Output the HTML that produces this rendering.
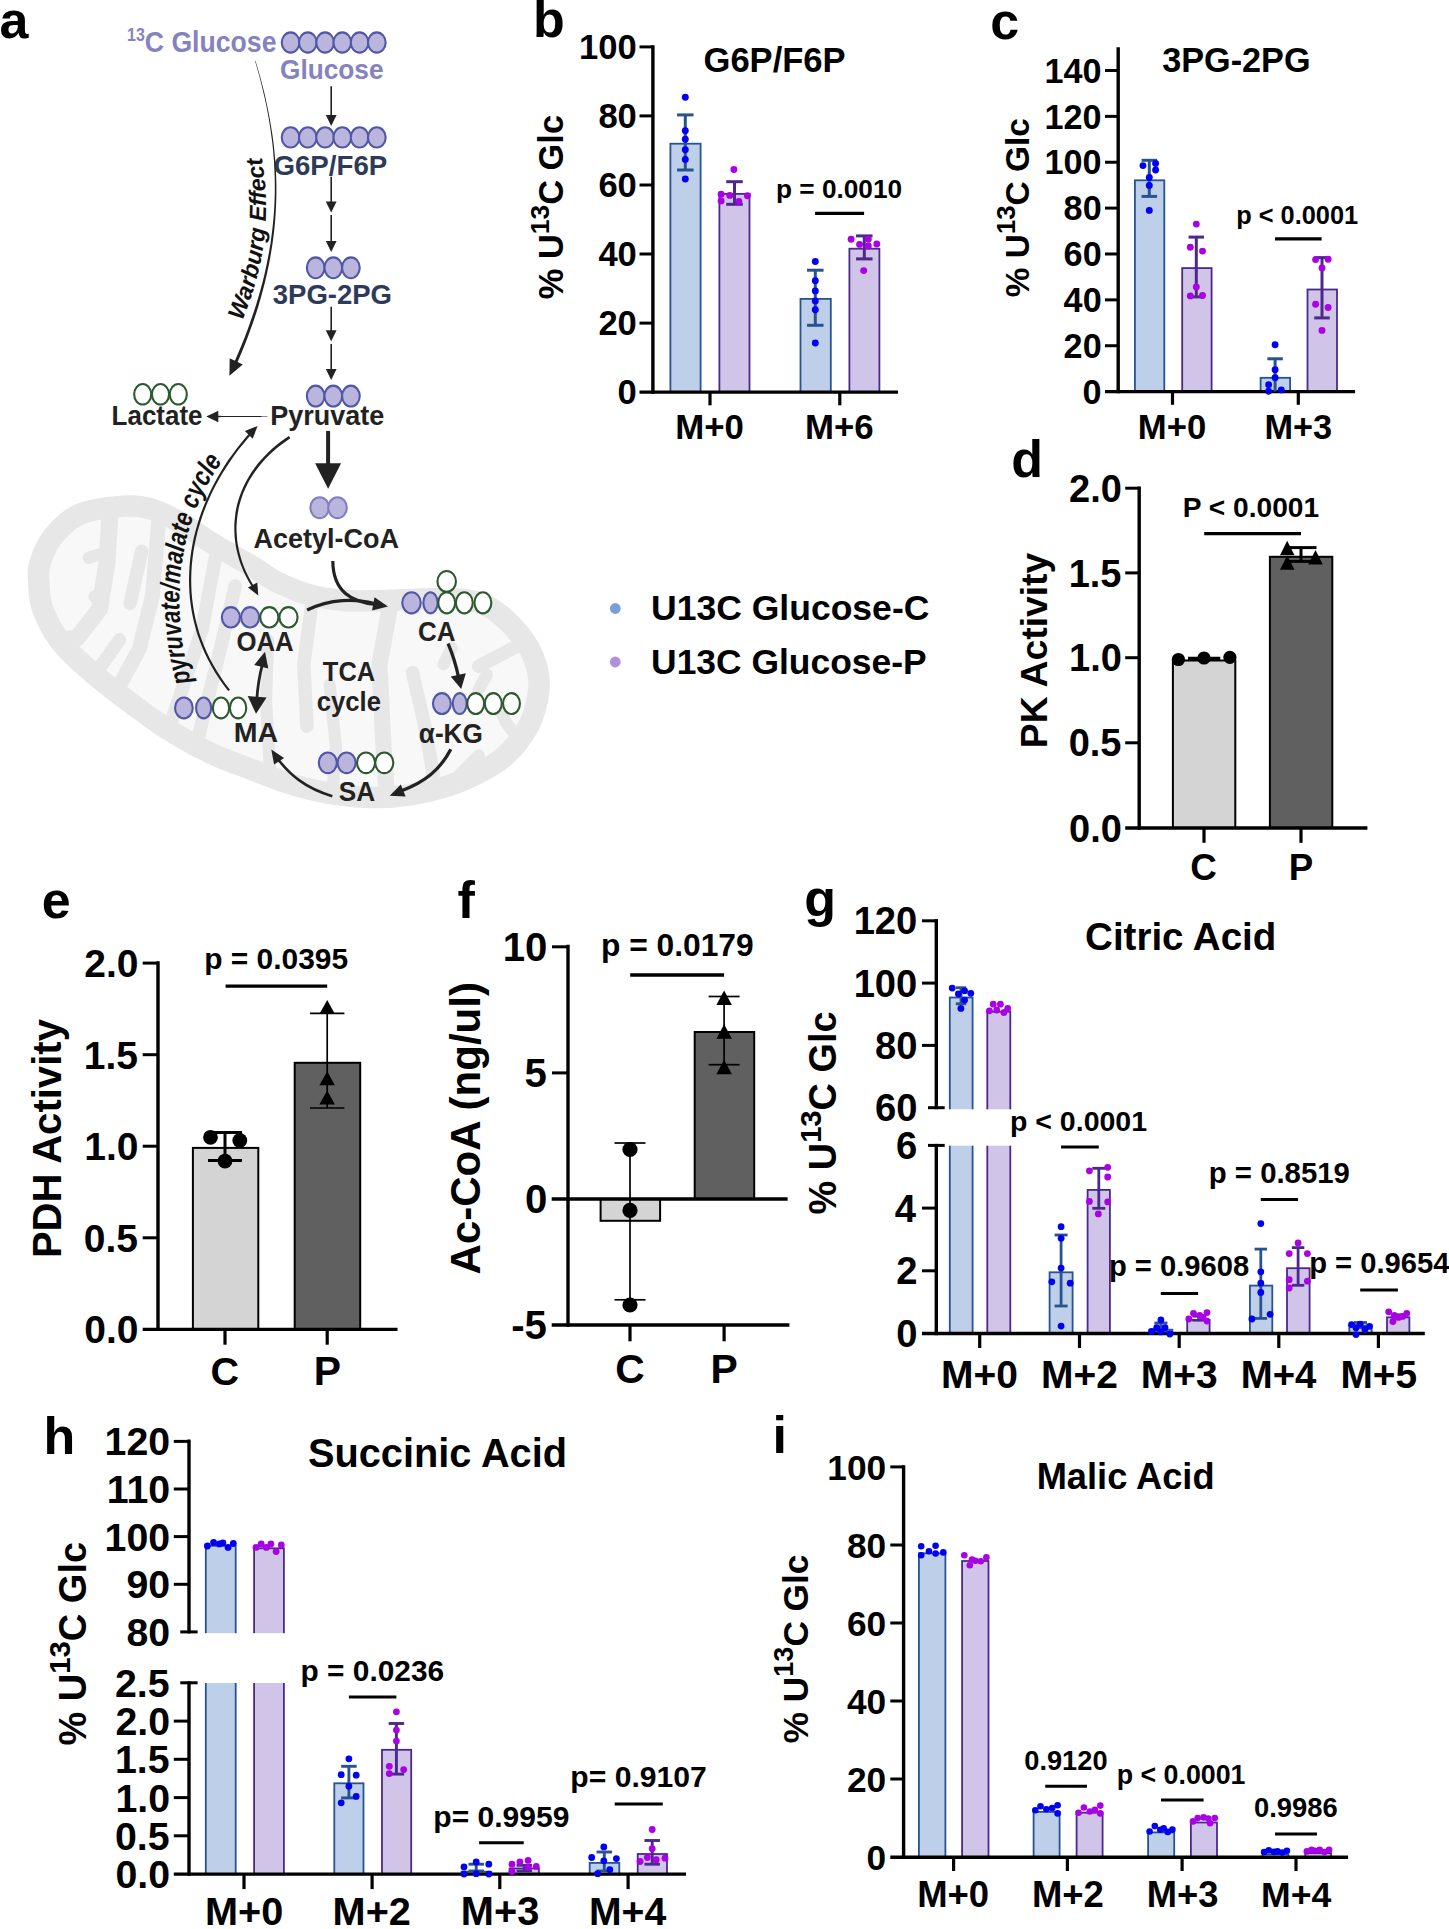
<!DOCTYPE html>
<html><head><meta charset="utf-8"><title>Figure</title>
<style>html,body{margin:0;padding:0;background:#fff}svg{display:block}</style></head>
<body>
<svg width="1449" height="1929" viewBox="0 0 1449 1929" font-family="'Liberation Sans', sans-serif">
<rect width="1449" height="1929" fill="#fff"/>
<text transform="translate(-0.53,38.20) scale(1.0000,1)" font-size="52" fill="#000" font-weight="bold">a</text>
<clipPath id="mc"><path d="M28.0,582.0 L27.9,579.9 L27.8,577.9 L27.7,576.0 L27.7,574.2 L27.7,572.5 L27.7,570.7 L27.9,569.0 L28.1,567.3 L28.4,565.5 L28.8,563.6 L29.3,561.6 L29.9,559.5 L30.6,557.3 L31.5,554.9 L32.4,552.4 L33.3,549.9 L34.4,547.4 L35.6,544.8 L36.9,542.1 L38.2,539.5 L39.7,537.0 L41.3,534.5 L43.0,532.0 L44.8,529.7 L46.7,527.4 L48.7,525.1 L50.9,522.8 L53.1,520.5 L55.4,518.2 L57.9,516.0 L60.4,513.8 L63.1,511.7 L65.8,509.8 L68.7,508.0 L71.6,506.3 L74.7,504.8 L77.9,503.5 L81.4,502.2 L85.1,501.1 L88.9,500.2 L92.9,499.3 L96.9,498.5 L100.8,497.9 L104.8,497.3 L108.7,496.8 L112.5,496.4 L116.0,496.0 L119.4,495.7 L122.6,495.5 L125.6,495.3 L128.5,495.2 L131.3,495.2 L134.0,495.3 L136.7,495.4 L139.3,495.7 L141.9,496.0 L144.5,496.4 L147.1,496.9 L149.8,497.5 L152.5,498.2 L155.3,499.0 L158.0,499.9 L160.8,500.9 L163.5,502.0 L166.3,503.2 L169.0,504.5 L171.8,505.8 L174.6,507.2 L177.3,508.6 L180.1,510.1 L182.8,511.6 L185.6,513.1 L188.3,514.7 L191.0,516.3 L193.7,518.0 L196.4,519.7 L199.0,521.5 L201.7,523.3 L204.4,525.2 L207.1,527.1 L209.9,529.0 L212.8,530.9 L215.8,532.8 L218.8,534.7 L222.0,536.6 L225.4,538.7 L229.0,540.7 L232.7,542.8 L236.4,545.0 L240.1,547.1 L243.8,549.2 L247.4,551.2 L250.9,553.2 L254.2,555.1 L257.2,556.9 L260.0,558.5 L262.5,560.0 L264.7,561.4 L266.7,562.7 L268.5,564.0 L270.2,565.2 L271.8,566.3 L273.3,567.3 L274.9,568.4 L276.5,569.4 L278.2,570.4 L280.0,571.5 L282.0,572.5 L284.2,573.6 L286.4,574.6 L288.7,575.7 L291.1,576.7 L293.5,577.8 L295.9,578.8 L298.4,579.8 L300.9,580.7 L303.4,581.6 L306.0,582.5 L308.5,583.3 L311.0,584.0 L313.5,584.7 L316.1,585.3 L318.6,585.9 L321.2,586.5 L323.8,587.0 L326.4,587.4 L329.0,587.9 L331.7,588.3 L334.3,588.6 L336.9,588.9 L339.5,589.2 L342.1,589.5 L344.7,589.7 L347.3,589.9 L349.9,590.0 L352.5,590.1 L355.1,590.1 L357.7,590.2 L360.2,590.2 L362.8,590.1 L365.4,590.1 L368.0,590.1 L370.6,590.0 L373.2,590.0 L375.8,590.0 L378.3,589.9 L380.8,589.9 L383.4,589.8 L385.9,589.7 L388.4,589.6 L390.9,589.5 L393.5,589.4 L396.1,589.3 L398.8,589.2 L401.4,589.1 L404.2,589.0 L407.0,588.9 L410.0,588.8 L412.9,588.7 L416.0,588.6 L419.1,588.5 L422.2,588.3 L425.3,588.2 L428.3,588.1 L431.3,588.1 L434.3,588.0 L437.2,588.0 L440.0,588.0 L442.7,588.0 L445.4,588.0 L448.1,588.1 L450.7,588.1 L453.3,588.1 L455.8,588.2 L458.3,588.3 L460.7,588.5 L463.1,588.6 L465.5,588.9 L467.8,589.2 L470.0,589.5 L472.2,589.9 L474.3,590.3 L476.3,590.7 L478.2,591.1 L480.1,591.6 L482.0,592.1 L483.8,592.7 L485.7,593.4 L487.5,594.1 L489.4,595.0 L491.3,595.9 L493.3,597.0 L495.3,598.2 L497.4,599.5 L499.5,600.9 L501.6,602.4 L503.7,603.9 L505.9,605.6 L508.0,607.3 L510.1,609.1 L512.2,610.9 L514.2,612.8 L516.2,614.7 L518.1,616.6 L520.0,618.6 L521.9,620.6 L523.8,622.7 L525.7,624.9 L527.5,627.1 L529.4,629.3 L531.1,631.6 L532.8,634.0 L534.4,636.3 L536.0,638.7 L537.4,641.1 L538.8,643.5 L540.1,645.9 L541.3,648.4 L542.4,651.0 L543.5,653.6 L544.5,656.2 L545.4,658.8 L546.3,661.4 L547.0,664.1 L547.7,666.7 L548.3,669.4 L548.8,672.0 L549.2,674.6 L549.5,677.2 L549.7,679.8 L549.8,682.4 L549.8,684.9 L549.7,687.5 L549.6,690.1 L549.3,692.7 L549.0,695.3 L548.6,697.8 L548.2,700.4 L547.7,703.0 L547.1,705.6 L546.5,708.2 L545.8,710.8 L545.1,713.4 L544.3,716.0 L543.4,718.6 L542.5,721.1 L541.4,723.7 L540.3,726.3 L539.1,728.9 L537.7,731.5 L536.3,734.1 L534.7,736.7 L533.0,739.3 L531.2,742.0 L529.3,744.6 L527.3,747.3 L525.2,750.0 L523.0,752.7 L520.7,755.4 L518.3,758.0 L515.8,760.5 L513.2,763.0 L510.5,765.4 L507.7,767.7 L504.8,769.9 L501.6,772.1 L498.4,774.2 L495.0,776.3 L491.5,778.3 L487.9,780.3 L484.3,782.2 L480.6,784.0 L477.0,785.7 L473.4,787.4 L469.8,789.0 L466.3,790.5 L462.9,791.9 L459.4,793.3 L455.9,794.5 L452.5,795.7 L449.1,796.8 L445.6,797.8 L442.1,798.8 L438.7,799.7 L435.3,800.5 L431.8,801.4 L428.4,802.2 L424.9,802.9 L421.4,803.6 L418.0,804.3 L414.5,804.9 L411.1,805.4 L407.6,805.9 L404.2,806.4 L400.8,806.8 L397.3,807.2 L393.8,807.5 L390.4,807.7 L386.9,807.9 L383.5,808.1 L380.1,808.2 L376.7,808.3 L373.3,808.3 L369.9,808.2 L366.5,808.1 L363.2,808.0 L359.8,807.8 L356.3,807.5 L352.9,807.2 L349.3,806.9 L345.7,806.5 L342.1,806.0 L338.4,805.5 L334.6,804.9 L330.7,804.3 L326.8,803.7 L322.9,802.9 L318.9,802.2 L314.9,801.4 L310.9,800.5 L306.9,799.6 L302.9,798.6 L299.0,797.6 L295.0,796.5 L291.0,795.3 L287.1,794.1 L283.1,792.8 L279.0,791.4 L275.0,789.9 L271.0,788.4 L267.0,786.9 L263.0,785.4 L259.1,783.9 L255.2,782.4 L251.4,780.9 L247.7,779.5 L244.0,778.1 L240.5,776.8 L236.9,775.5 L233.5,774.2 L230.0,772.9 L226.6,771.6 L223.3,770.2 L219.9,768.9 L216.5,767.5 L213.1,766.0 L209.7,764.5 L206.3,762.9 L202.9,761.2 L199.4,759.5 L196.0,757.8 L192.5,756.0 L189.1,754.2 L185.6,752.3 L182.2,750.4 L178.7,748.4 L175.3,746.4 L171.8,744.3 L168.4,742.2 L164.9,740.1 L161.5,737.9 L158.0,735.7 L154.6,733.4 L151.1,731.0 L147.7,728.7 L144.2,726.2 L140.8,723.8 L137.3,721.3 L133.8,718.8 L130.4,716.2 L127.0,713.7 L123.5,711.1 L120.0,708.5 L116.5,705.8 L112.9,703.1 L109.3,700.3 L105.7,697.5 L102.2,694.7 L98.6,691.9 L95.1,689.0 L91.7,686.2 L88.4,683.4 L85.2,680.7 L82.1,678.0 L79.1,675.4 L76.2,672.8 L73.3,670.2 L70.5,667.7 L67.8,665.1 L65.2,662.6 L62.6,660.1 L60.1,657.6 L57.7,655.0 L55.4,652.4 L53.2,649.7 L51.1,647.0 L49.1,644.2 L47.1,641.3 L45.2,638.4 L43.4,635.4 L41.7,632.4 L40.1,629.3 L38.6,626.3 L37.1,623.3 L35.8,620.3 L34.5,617.4 L33.4,614.6 L32.4,611.8 L31.5,609.1 L30.8,606.4 L30.1,603.8 L29.6,601.2 L29.2,598.6 L28.9,596.1 L28.7,593.6 L28.5,591.2 L28.3,588.8 L28.2,586.5 L28.1,584.2 Z"/></clipPath>
<path d="M28.0,582.0 L27.9,579.9 L27.8,577.9 L27.7,576.0 L27.7,574.2 L27.7,572.5 L27.7,570.7 L27.9,569.0 L28.1,567.3 L28.4,565.5 L28.8,563.6 L29.3,561.6 L29.9,559.5 L30.6,557.3 L31.5,554.9 L32.4,552.4 L33.3,549.9 L34.4,547.4 L35.6,544.8 L36.9,542.1 L38.2,539.5 L39.7,537.0 L41.3,534.5 L43.0,532.0 L44.8,529.7 L46.7,527.4 L48.7,525.1 L50.9,522.8 L53.1,520.5 L55.4,518.2 L57.9,516.0 L60.4,513.8 L63.1,511.7 L65.8,509.8 L68.7,508.0 L71.6,506.3 L74.7,504.8 L77.9,503.5 L81.4,502.2 L85.1,501.1 L88.9,500.2 L92.9,499.3 L96.9,498.5 L100.8,497.9 L104.8,497.3 L108.7,496.8 L112.5,496.4 L116.0,496.0 L119.4,495.7 L122.6,495.5 L125.6,495.3 L128.5,495.2 L131.3,495.2 L134.0,495.3 L136.7,495.4 L139.3,495.7 L141.9,496.0 L144.5,496.4 L147.1,496.9 L149.8,497.5 L152.5,498.2 L155.3,499.0 L158.0,499.9 L160.8,500.9 L163.5,502.0 L166.3,503.2 L169.0,504.5 L171.8,505.8 L174.6,507.2 L177.3,508.6 L180.1,510.1 L182.8,511.6 L185.6,513.1 L188.3,514.7 L191.0,516.3 L193.7,518.0 L196.4,519.7 L199.0,521.5 L201.7,523.3 L204.4,525.2 L207.1,527.1 L209.9,529.0 L212.8,530.9 L215.8,532.8 L218.8,534.7 L222.0,536.6 L225.4,538.7 L229.0,540.7 L232.7,542.8 L236.4,545.0 L240.1,547.1 L243.8,549.2 L247.4,551.2 L250.9,553.2 L254.2,555.1 L257.2,556.9 L260.0,558.5 L262.5,560.0 L264.7,561.4 L266.7,562.7 L268.5,564.0 L270.2,565.2 L271.8,566.3 L273.3,567.3 L274.9,568.4 L276.5,569.4 L278.2,570.4 L280.0,571.5 L282.0,572.5 L284.2,573.6 L286.4,574.6 L288.7,575.7 L291.1,576.7 L293.5,577.8 L295.9,578.8 L298.4,579.8 L300.9,580.7 L303.4,581.6 L306.0,582.5 L308.5,583.3 L311.0,584.0 L313.5,584.7 L316.1,585.3 L318.6,585.9 L321.2,586.5 L323.8,587.0 L326.4,587.4 L329.0,587.9 L331.7,588.3 L334.3,588.6 L336.9,588.9 L339.5,589.2 L342.1,589.5 L344.7,589.7 L347.3,589.9 L349.9,590.0 L352.5,590.1 L355.1,590.1 L357.7,590.2 L360.2,590.2 L362.8,590.1 L365.4,590.1 L368.0,590.1 L370.6,590.0 L373.2,590.0 L375.8,590.0 L378.3,589.9 L380.8,589.9 L383.4,589.8 L385.9,589.7 L388.4,589.6 L390.9,589.5 L393.5,589.4 L396.1,589.3 L398.8,589.2 L401.4,589.1 L404.2,589.0 L407.0,588.9 L410.0,588.8 L412.9,588.7 L416.0,588.6 L419.1,588.5 L422.2,588.3 L425.3,588.2 L428.3,588.1 L431.3,588.1 L434.3,588.0 L437.2,588.0 L440.0,588.0 L442.7,588.0 L445.4,588.0 L448.1,588.1 L450.7,588.1 L453.3,588.1 L455.8,588.2 L458.3,588.3 L460.7,588.5 L463.1,588.6 L465.5,588.9 L467.8,589.2 L470.0,589.5 L472.2,589.9 L474.3,590.3 L476.3,590.7 L478.2,591.1 L480.1,591.6 L482.0,592.1 L483.8,592.7 L485.7,593.4 L487.5,594.1 L489.4,595.0 L491.3,595.9 L493.3,597.0 L495.3,598.2 L497.4,599.5 L499.5,600.9 L501.6,602.4 L503.7,603.9 L505.9,605.6 L508.0,607.3 L510.1,609.1 L512.2,610.9 L514.2,612.8 L516.2,614.7 L518.1,616.6 L520.0,618.6 L521.9,620.6 L523.8,622.7 L525.7,624.9 L527.5,627.1 L529.4,629.3 L531.1,631.6 L532.8,634.0 L534.4,636.3 L536.0,638.7 L537.4,641.1 L538.8,643.5 L540.1,645.9 L541.3,648.4 L542.4,651.0 L543.5,653.6 L544.5,656.2 L545.4,658.8 L546.3,661.4 L547.0,664.1 L547.7,666.7 L548.3,669.4 L548.8,672.0 L549.2,674.6 L549.5,677.2 L549.7,679.8 L549.8,682.4 L549.8,684.9 L549.7,687.5 L549.6,690.1 L549.3,692.7 L549.0,695.3 L548.6,697.8 L548.2,700.4 L547.7,703.0 L547.1,705.6 L546.5,708.2 L545.8,710.8 L545.1,713.4 L544.3,716.0 L543.4,718.6 L542.5,721.1 L541.4,723.7 L540.3,726.3 L539.1,728.9 L537.7,731.5 L536.3,734.1 L534.7,736.7 L533.0,739.3 L531.2,742.0 L529.3,744.6 L527.3,747.3 L525.2,750.0 L523.0,752.7 L520.7,755.4 L518.3,758.0 L515.8,760.5 L513.2,763.0 L510.5,765.4 L507.7,767.7 L504.8,769.9 L501.6,772.1 L498.4,774.2 L495.0,776.3 L491.5,778.3 L487.9,780.3 L484.3,782.2 L480.6,784.0 L477.0,785.7 L473.4,787.4 L469.8,789.0 L466.3,790.5 L462.9,791.9 L459.4,793.3 L455.9,794.5 L452.5,795.7 L449.1,796.8 L445.6,797.8 L442.1,798.8 L438.7,799.7 L435.3,800.5 L431.8,801.4 L428.4,802.2 L424.9,802.9 L421.4,803.6 L418.0,804.3 L414.5,804.9 L411.1,805.4 L407.6,805.9 L404.2,806.4 L400.8,806.8 L397.3,807.2 L393.8,807.5 L390.4,807.7 L386.9,807.9 L383.5,808.1 L380.1,808.2 L376.7,808.3 L373.3,808.3 L369.9,808.2 L366.5,808.1 L363.2,808.0 L359.8,807.8 L356.3,807.5 L352.9,807.2 L349.3,806.9 L345.7,806.5 L342.1,806.0 L338.4,805.5 L334.6,804.9 L330.7,804.3 L326.8,803.7 L322.9,802.9 L318.9,802.2 L314.9,801.4 L310.9,800.5 L306.9,799.6 L302.9,798.6 L299.0,797.6 L295.0,796.5 L291.0,795.3 L287.1,794.1 L283.1,792.8 L279.0,791.4 L275.0,789.9 L271.0,788.4 L267.0,786.9 L263.0,785.4 L259.1,783.9 L255.2,782.4 L251.4,780.9 L247.7,779.5 L244.0,778.1 L240.5,776.8 L236.9,775.5 L233.5,774.2 L230.0,772.9 L226.6,771.6 L223.3,770.2 L219.9,768.9 L216.5,767.5 L213.1,766.0 L209.7,764.5 L206.3,762.9 L202.9,761.2 L199.4,759.5 L196.0,757.8 L192.5,756.0 L189.1,754.2 L185.6,752.3 L182.2,750.4 L178.7,748.4 L175.3,746.4 L171.8,744.3 L168.4,742.2 L164.9,740.1 L161.5,737.9 L158.0,735.7 L154.6,733.4 L151.1,731.0 L147.7,728.7 L144.2,726.2 L140.8,723.8 L137.3,721.3 L133.8,718.8 L130.4,716.2 L127.0,713.7 L123.5,711.1 L120.0,708.5 L116.5,705.8 L112.9,703.1 L109.3,700.3 L105.7,697.5 L102.2,694.7 L98.6,691.9 L95.1,689.0 L91.7,686.2 L88.4,683.4 L85.2,680.7 L82.1,678.0 L79.1,675.4 L76.2,672.8 L73.3,670.2 L70.5,667.7 L67.8,665.1 L65.2,662.6 L62.6,660.1 L60.1,657.6 L57.7,655.0 L55.4,652.4 L53.2,649.7 L51.1,647.0 L49.1,644.2 L47.1,641.3 L45.2,638.4 L43.4,635.4 L41.7,632.4 L40.1,629.3 L38.6,626.3 L37.1,623.3 L35.8,620.3 L34.5,617.4 L33.4,614.6 L32.4,611.8 L31.5,609.1 L30.8,606.4 L30.1,603.8 L29.6,601.2 L29.2,598.6 L28.9,596.1 L28.7,593.6 L28.5,591.2 L28.3,588.8 L28.2,586.5 L28.1,584.2 Z" fill="#e7e7e7"/>
<path d="M49.5,581.0 L49.4,579.0 L49.3,577.2 L49.2,575.5 L49.2,574.2 L49.2,573.0 L49.2,572.0 L49.3,571.2 L49.3,570.4 L49.5,569.5 L49.7,568.5 L50.0,567.3 L50.5,565.8 L51.0,564.1 L51.7,562.2 L52.4,560.2 L53.2,558.1 L54.1,556.0 L55.0,554.0 L56.0,552.0 L57.0,550.0 L58.1,548.2 L59.2,546.4 L60.4,544.7 L61.7,543.0 L63.2,541.3 L64.7,539.5 L66.4,537.6 L68.2,535.7 L70.1,533.9 L72.0,532.2 L73.9,530.6 L75.8,529.1 L77.7,527.7 L79.6,526.5 L81.5,525.4 L83.5,524.4 L85.7,523.5 L88.2,522.7 L91.0,521.8 L94.0,521.1 L97.3,520.3 L100.8,519.7 L104.3,519.1 L107.8,518.6 L111.4,518.1 L114.8,517.7 L118.1,517.4 L121.1,517.1 L123.9,516.9 L126.4,516.8 L128.8,516.7 L131.0,516.7 L133.1,516.8 L135.1,516.9 L137.0,517.1 L138.9,517.3 L140.8,517.6 L142.8,518.0 L144.8,518.4 L146.8,518.9 L148.9,519.5 L151.0,520.2 L153.2,521.0 L155.4,521.9 L157.6,522.9 L160.0,523.9 L162.4,525.1 L164.8,526.4 L167.4,527.7 L169.9,529.0 L172.4,530.4 L174.9,531.8 L177.4,533.2 L179.8,534.6 L182.2,536.1 L184.6,537.7 L187.0,539.4 L189.6,541.1 L192.3,543.0 L195.1,544.9 L198.0,546.9 L201.1,548.9 L204.3,551.0 L207.5,553.0 L210.9,555.1 L214.5,557.2 L218.2,559.3 L221.9,561.5 L225.7,563.6 L229.5,565.8 L233.2,567.9 L236.7,569.9 L240.2,571.8 L243.4,573.7 L246.3,575.4 L248.9,576.9 L251.1,578.3 L253.1,579.5 L254.8,580.7 L256.5,581.8 L258.0,582.9 L259.7,584.0 L261.4,585.2 L263.2,586.5 L265.3,587.8 L267.5,589.1 L269.7,590.4 L272.2,591.6 L274.7,592.9 L277.3,594.1 L279.9,595.3 L282.5,596.5 L285.2,597.6 L287.9,598.7 L290.7,599.8 L293.5,600.9 L296.4,601.9 L299.3,602.9 L302.2,603.8 L305.1,604.7 L308.1,605.5 L311.0,606.2 L313.9,606.9 L316.9,607.5 L319.8,608.1 L322.8,608.6 L325.7,609.1 L328.6,609.5 L331.5,609.9 L334.4,610.3 L337.3,610.6 L340.2,610.9 L343.1,611.2 L346.0,611.4 L349.0,611.5 L351.9,611.6 L354.7,611.6 L357.5,611.7 L360.3,611.7 L363.0,611.6 L365.6,611.6 L368.3,611.6 L370.9,611.5 L373.5,611.5 L376.2,611.5 L378.8,611.4 L381.4,611.3 L384.0,611.3 L386.6,611.2 L389.2,611.1 L391.8,611.0 L394.3,610.9 L396.9,610.8 L399.5,610.7 L402.2,610.6 L405.0,610.5 L407.8,610.4 L410.7,610.3 L413.7,610.2 L416.8,610.1 L419.8,609.9 L422.9,609.8 L425.9,609.7 L428.9,609.6 L431.8,609.6 L434.6,609.5 L437.3,609.5 L440.0,609.5 L442.6,609.5 L445.2,609.5 L447.8,609.6 L450.3,609.6 L452.7,609.6 L454.9,609.7 L457.1,609.8 L459.2,609.9 L461.2,610.1 L463.1,610.2 L464.9,610.5 L466.7,610.7 L468.5,611.1 L470.1,611.4 L471.7,611.7 L473.1,612.0 L474.4,612.3 L475.7,612.7 L476.8,613.0 L477.9,613.4 L479.0,613.9 L480.2,614.4 L481.4,615.0 L482.7,615.7 L484.2,616.6 L485.7,617.5 L487.4,618.6 L489.0,619.8 L490.8,621.1 L492.5,622.4 L494.3,623.9 L496.0,625.4 L497.8,626.9 L499.5,628.5 L501.2,630.1 L502.8,631.7 L504.4,633.4 L506.1,635.1 L507.7,636.9 L509.3,638.8 L510.9,640.7 L512.4,642.6 L513.9,644.5 L515.3,646.4 L516.6,648.2 L517.8,650.1 L518.9,651.9 L519.9,653.8 L520.9,655.6 L521.8,657.5 L522.7,659.5 L523.5,661.6 L524.3,663.6 L525.0,665.7 L525.7,667.7 L526.3,669.7 L526.8,671.7 L527.2,673.7 L527.6,675.6 L527.9,677.4 L528.1,679.2 L528.2,681.1 L528.3,682.9 L528.3,684.7 L528.3,686.6 L528.1,688.5 L528.0,690.4 L527.7,692.4 L527.4,694.5 L527.0,696.5 L526.6,698.6 L526.1,700.8 L525.6,702.9 L525.1,705.1 L524.5,707.2 L523.8,709.3 L523.1,711.4 L522.4,713.4 L521.6,715.4 L520.7,717.4 L519.8,719.3 L518.8,721.3 L517.7,723.3 L516.4,725.4 L515.0,727.5 L513.6,729.7 L511.9,732.0 L510.2,734.3 L508.5,736.5 L506.6,738.8 L504.7,741.0 L502.8,743.1 L500.8,745.2 L498.7,747.1 L496.6,749.0 L494.4,750.8 L492.1,752.5 L489.6,754.3 L486.8,756.1 L483.9,757.8 L480.9,759.6 L477.7,761.3 L474.4,763.0 L471.1,764.7 L467.8,766.3 L464.4,767.8 L461.2,769.3 L458.0,770.7 L454.9,771.9 L451.9,773.1 L448.8,774.2 L445.7,775.3 L442.7,776.2 L439.6,777.2 L436.4,778.0 L433.3,778.9 L430.1,779.7 L426.9,780.4 L423.7,781.2 L420.5,781.9 L417.3,782.5 L414.1,783.1 L411.0,783.7 L407.8,784.2 L404.7,784.7 L401.5,785.1 L398.4,785.4 L395.2,785.8 L392.1,786.1 L389.0,786.3 L385.8,786.5 L382.7,786.6 L379.6,786.7 L376.5,786.8 L373.4,786.8 L370.4,786.7 L367.3,786.6 L364.3,786.5 L361.2,786.3 L358.0,786.1 L354.9,785.8 L351.6,785.5 L348.3,785.1 L344.9,784.7 L341.4,784.2 L337.8,783.7 L334.2,783.1 L330.6,782.5 L326.9,781.8 L323.1,781.1 L319.4,780.3 L315.6,779.5 L311.9,778.7 L308.2,777.8 L304.5,776.8 L300.9,775.8 L297.3,774.8 L293.6,773.6 L289.9,772.4 L286.1,771.1 L282.3,769.7 L278.5,768.3 L274.6,766.8 L270.7,765.3 L266.8,763.8 L262.9,762.3 L259.1,760.8 L255.3,759.4 L251.6,758.0 L248.0,756.7 L244.5,755.3 L241.1,754.1 L237.7,752.8 L234.5,751.5 L231.2,750.3 L228.1,749.0 L224.9,747.7 L221.8,746.3 L218.7,744.9 L215.5,743.5 L212.3,741.9 L209.0,740.3 L205.8,738.7 L202.5,737.0 L199.2,735.2 L196.0,733.4 L192.7,731.6 L189.4,729.8 L186.1,727.8 L182.9,725.9 L179.6,723.9 L176.3,721.9 L173.1,719.8 L169.8,717.7 L166.5,715.5 L163.2,713.3 L159.9,711.0 L156.6,708.7 L153.3,706.3 L149.9,703.9 L146.5,701.4 L143.2,698.9 L139.8,696.4 L136.4,693.9 L133.0,691.3 L129.5,688.7 L126.0,686.0 L122.5,683.3 L119.0,680.6 L115.5,677.8 L112.1,675.1 L108.7,672.4 L105.5,669.7 L102.3,667.0 L99.2,664.4 L96.2,661.8 L93.3,659.2 L90.5,656.7 L87.8,654.3 L85.1,651.9 L82.6,649.5 L80.2,647.2 L77.9,645.0 L75.7,642.8 L73.7,640.6 L71.8,638.4 L70.0,636.3 L68.3,634.1 L66.6,631.8 L65.0,629.4 L63.5,627.0 L62.0,624.5 L60.5,621.9 L59.1,619.4 L57.8,616.8 L56.6,614.2 L55.5,611.7 L54.4,609.3 L53.5,607.0 L52.7,604.9 L52.1,602.9 L51.6,601.0 L51.1,599.1 L50.8,597.3 L50.5,595.4 L50.3,593.5 L50.1,591.5 L49.9,589.5 L49.8,587.4 L49.7,585.3 L49.6,583.1 Z" fill="#f8f8f8"/>
<g clip-path="url(#mc)">
<path d="M110.3,508.2 L107.0,562.8 L99.5,609.2 L77.1,638.2 L59.8,639.8" fill="none" stroke="#e7e7e7" stroke-width="16.9" stroke-linecap="round" stroke-linejoin="round"/>
<path d="M104.5,552.9 L88.7,557.8" fill="none" stroke="#e7e7e7" stroke-width="12.2" stroke-linecap="round" stroke-linejoin="round"/>
<path d="M101.2,594.3 L94.5,596.8" fill="none" stroke="#e7e7e7" stroke-width="12.2" stroke-linecap="round" stroke-linejoin="round"/>
<path d="M141.7,551.2 L130.1,603.4" fill="none" stroke="#e7e7e7" stroke-width="13.5" stroke-linecap="round" stroke-linejoin="round"/>
<path d="M119.4,639.8 L97.8,670.5 L89.6,681.2" fill="none" stroke="#e7e7e7" stroke-width="13.5" stroke-linecap="round" stroke-linejoin="round"/>
<path d="M159.1,515.6 L152.5,595.9 L139.3,648.9 L117.7,688.7 L112.8,700.3" fill="none" stroke="#e7e7e7" stroke-width="14.9" stroke-linecap="round" stroke-linejoin="round"/>
<path d="M215.4,557.8 L202.2,629.1 L179.0,698.6 L169.1,728.4" fill="none" stroke="#e7e7e7" stroke-width="13.5" stroke-linecap="round" stroke-linejoin="round"/>
<path d="M235.3,586.0 L217.1,662.2 L200.5,728.4 L195.6,751.6" fill="none" stroke="#e7e7e7" stroke-width="13.5" stroke-linecap="round" stroke-linejoin="round"/>
<path d="M311.1,608.3 L303.8,664.2 L306.9,726.3" fill="none" stroke="#e7e7e7" stroke-width="13.5" stroke-linecap="round" stroke-linejoin="round"/>
<path d="M389.7,608.3 L379.4,664.2 L383.5,747.0 L387.7,807.1" fill="none" stroke="#e7e7e7" stroke-width="16.2" stroke-linecap="round" stroke-linejoin="round"/>
<path d="M329.7,684.9 L335.9,747.0 L331.8,800.9" fill="none" stroke="#e7e7e7" stroke-width="12.2" stroke-linecap="round" stroke-linejoin="round"/>
<path d="M412.5,672.5 L424.9,726.3 L433.2,774.0" fill="none" stroke="#e7e7e7" stroke-width="13.5" stroke-linecap="round" stroke-linejoin="round"/>
<path d="M443.6,664.2 L451.8,647.7" fill="none" stroke="#e7e7e7" stroke-width="12.2" stroke-linecap="round" stroke-linejoin="round"/>
<path d="M478.8,666.3 L514.0,647.7 L528.4,643.5" fill="none" stroke="#e7e7e7" stroke-width="13.5" stroke-linecap="round" stroke-linejoin="round"/>
<path d="M487.0,674.6 L478.8,689.1" fill="none" stroke="#e7e7e7" stroke-width="12.2" stroke-linecap="round" stroke-linejoin="round"/>
<path d="M524.3,747.0 L505.7,722.2 L499.5,705.6" fill="none" stroke="#e7e7e7" stroke-width="12.2" stroke-linecap="round" stroke-linejoin="round"/>
<path d="M478.8,755.3 L460.1,774.0 L453.9,788.4" fill="none" stroke="#e7e7e7" stroke-width="12.2" stroke-linecap="round" stroke-linejoin="round"/>
<path d="M268.0,640.0 L266.0,700.0 L270.0,770.0" fill="none" stroke="#e7e7e7" stroke-width="12.2" stroke-linecap="round" stroke-linejoin="round"/>
</g>
<text transform="translate(127.00,51.5) scale(0.8877,1)" font-size="30" fill="#8582c0" font-weight="bold"><tspan font-size="0.6em" dy="-0.5667em">13</tspan><tspan font-size="1em" dy="0.3400em">C Glucose</tspan></text>
<ellipse cx="290.6" cy="42.5" rx="8.85" ry="10.15" fill="#b9b5dc" stroke="#5256a6" stroke-width="2.1"/>
<ellipse cx="307.8" cy="42.5" rx="8.85" ry="10.15" fill="#b9b5dc" stroke="#5256a6" stroke-width="2.1"/>
<ellipse cx="325.1" cy="42.5" rx="8.85" ry="10.15" fill="#b9b5dc" stroke="#5256a6" stroke-width="2.1"/>
<ellipse cx="342.3" cy="42.5" rx="8.85" ry="10.15" fill="#b9b5dc" stroke="#5256a6" stroke-width="2.1"/>
<ellipse cx="359.6" cy="42.5" rx="8.85" ry="10.15" fill="#b9b5dc" stroke="#5256a6" stroke-width="2.1"/>
<ellipse cx="376.8" cy="42.5" rx="8.85" ry="10.15" fill="#b9b5dc" stroke="#5256a6" stroke-width="2.1"/>
<text transform="translate(280.05,78.50) scale(0.9206,1)" font-size="28.5" fill="#8582c0" font-weight="bold">Glucose</text>
<line x1="331.20" y1="86.20" x2="331.20" y2="116.00" stroke="#222222" stroke-width="1.6" stroke-linecap="butt"/>
<polygon points="331.2,126.0 325.8,115.0 336.6,115.0" fill="#222222"/>
<ellipse cx="290.6" cy="137.4" rx="8.85" ry="10.15" fill="#b9b5dc" stroke="#5256a6" stroke-width="2.1"/>
<ellipse cx="307.8" cy="137.4" rx="8.85" ry="10.15" fill="#b9b5dc" stroke="#5256a6" stroke-width="2.1"/>
<ellipse cx="325.1" cy="137.4" rx="8.85" ry="10.15" fill="#b9b5dc" stroke="#5256a6" stroke-width="2.1"/>
<ellipse cx="342.3" cy="137.4" rx="8.85" ry="10.15" fill="#b9b5dc" stroke="#5256a6" stroke-width="2.1"/>
<ellipse cx="359.6" cy="137.4" rx="8.85" ry="10.15" fill="#b9b5dc" stroke="#5256a6" stroke-width="2.1"/>
<ellipse cx="376.8" cy="137.4" rx="8.85" ry="10.15" fill="#b9b5dc" stroke="#5256a6" stroke-width="2.1"/>
<text transform="translate(273.39,174.50) scale(0.9719,1)" font-size="28.5" fill="#2e3a59" font-weight="bold">G6P/F6P</text>
<line x1="331.20" y1="176.70" x2="331.20" y2="202.50" stroke="#222222" stroke-width="1.6" stroke-linecap="butt"/>
<polygon points="331.2,212.5 325.8,201.5 336.6,201.5" fill="#222222"/>
<line x1="331.20" y1="215.00" x2="331.20" y2="241.90" stroke="#222222" stroke-width="1.6" stroke-linecap="butt"/>
<polygon points="331.2,251.9 325.8,240.9 336.6,240.9" fill="#222222"/>
<ellipse cx="315.7" cy="267.8" rx="8.85" ry="10.45" fill="#b9b5dc" stroke="#5256a6" stroke-width="2.1"/>
<ellipse cx="333.3" cy="267.8" rx="8.85" ry="10.45" fill="#b9b5dc" stroke="#5256a6" stroke-width="2.1"/>
<ellipse cx="350.9" cy="267.8" rx="8.85" ry="10.45" fill="#b9b5dc" stroke="#5256a6" stroke-width="2.1"/>
<text transform="translate(272.78,303.80) scale(0.9654,1)" font-size="28.5" fill="#2e3a59" font-weight="bold">3PG-2PG</text>
<line x1="331.20" y1="306.70" x2="331.20" y2="331.30" stroke="#222222" stroke-width="1.6" stroke-linecap="butt"/>
<polygon points="331.2,341.3 325.8,330.3 336.6,330.3" fill="#222222"/>
<line x1="331.20" y1="344.00" x2="331.20" y2="370.00" stroke="#222222" stroke-width="1.6" stroke-linecap="butt"/>
<polygon points="331.2,380.0 325.8,369.0 336.6,369.0" fill="#222222"/>
<ellipse cx="315.7" cy="396.1" rx="8.85" ry="10.45" fill="#b9b5dc" stroke="#5256a6" stroke-width="2.1"/>
<ellipse cx="333.3" cy="396.1" rx="8.85" ry="10.45" fill="#b9b5dc" stroke="#5256a6" stroke-width="2.1"/>
<ellipse cx="350.9" cy="396.1" rx="8.85" ry="10.45" fill="#b9b5dc" stroke="#5256a6" stroke-width="2.1"/>
<text transform="translate(270.35,424.90) scale(0.9671,1)" font-size="27.9" fill="#222222" font-weight="bold">Pyruvate</text>
<text transform="translate(111.61,424.90) scale(0.9302,1)" font-size="27.9" fill="#222222" font-weight="bold">Lactate</text>
<ellipse cx="142.7" cy="394.3" rx="8.55" ry="10.25" fill="#fff" stroke="#2c5a2e" stroke-width="2.1"/>
<ellipse cx="160.5" cy="394.3" rx="8.55" ry="10.25" fill="#fff" stroke="#2c5a2e" stroke-width="2.1"/>
<ellipse cx="178.3" cy="394.3" rx="8.55" ry="10.25" fill="#fff" stroke="#2c5a2e" stroke-width="2.1"/>
<polygon points="267.5,416.2 266.2,416.2 264.9,416.2 263.5,416.2 262.2,416.2 260.8,416.1 259.5,416.1 258.1,416.1 256.8,416.1 255.4,416.1 254.0,416.1 252.7,416.1 251.3,416.1 249.9,416.1 248.6,416.1 247.2,416.1 245.8,416.0 244.5,416.0 243.1,416.0 241.8,416.0 240.4,416.0 239.1,416.0 237.8,416.0 236.4,416.0 235.1,416.0 233.8,415.9 232.5,415.9 231.3,415.9 230.0,415.9 228.7,415.9 227.5,415.9 226.3,415.9 225.1,415.9 223.9,415.9 222.7,415.9 221.5,415.9 220.4,415.8 219.2,415.8 218.1,415.8 217.1,415.8 216.0,415.8 216.0,417.2 217.1,417.2 218.1,417.2 219.2,417.2 220.4,417.2 221.5,417.1 222.7,417.1 223.9,417.1 225.1,417.1 226.3,417.1 227.5,417.1 228.7,417.1 230.0,417.1 231.3,417.1 232.5,417.1 233.8,417.1 235.1,417.0 236.4,417.0 237.8,417.0 239.1,417.0 240.4,417.0 241.8,417.0 243.1,417.0 244.5,417.0 245.8,417.0 247.2,416.9 248.6,416.9 249.9,416.9 251.3,416.9 252.7,416.9 254.0,416.9 255.4,416.9 256.8,416.9 258.1,416.9 259.5,416.9 260.8,416.9 262.2,416.8 263.5,416.8 264.9,416.8 266.2,416.8 267.5,416.8" fill="#222222"/>
<polygon points="206.3,416.5 218.3,410.8 218.3,422.2" fill="#222222"/>
<polygon points="255.1,61.0 257.2,68.4 259.2,75.8 261.1,83.1 262.9,90.5 264.6,97.8 266.2,105.1 267.6,112.3 268.9,119.6 270.1,126.8 271.1,134.1 272.1,141.3 272.9,148.5 273.5,155.8 274.1,163.0 274.4,170.2 274.7,177.5 274.8,184.7 274.8,192.0 274.6,199.3 274.3,206.6 273.8,213.9 273.2,221.2 272.4,228.6 271.5,236.0 270.5,243.5 269.2,251.0 267.8,258.5 266.3,266.1 264.6,273.7 262.7,281.4 260.7,289.1 258.5,296.8 256.1,304.7 253.6,312.6 250.8,320.5 248.0,328.6 244.9,336.7 241.7,344.8 238.2,353.1 234.6,361.4 237.4,362.6 240.9,354.2 244.3,345.9 247.5,337.7 250.5,329.5 253.4,321.4 256.1,313.4 258.6,305.4 260.9,297.5 263.0,289.7 265.0,281.9 266.8,274.2 268.5,266.5 270.0,258.9 271.3,251.3 272.5,243.8 273.5,236.3 274.4,228.8 275.1,221.4 275.6,214.0 276.0,206.7 276.3,199.3 276.4,192.0 276.4,184.7 276.2,177.4 275.9,170.2 275.4,162.9 274.8,155.6 274.1,148.4 273.3,141.2 272.3,133.9 271.1,126.7 269.9,119.4 268.5,112.2 267.0,104.9 265.4,97.6 263.7,90.3 261.8,83.0 259.8,75.6 257.7,68.2 255.5,60.8" fill="#222222"/>
<polygon points="229.4,375.8 229.7,358.2 242.8,364.5" fill="#222222"/>
<path id="wp" d="M242,321 C264,270 272,215 261.5,156" fill="none"/>
<text font-size="23.5" font-weight="bold" font-style="italic" fill="#111"><textPath href="#wp" startOffset="0">Warburg Effect</textPath></text>
<line x1="328.10" y1="430.90" x2="328.10" y2="465.00" stroke="#222222" stroke-width="4" stroke-linecap="butt"/>
<polygon points="328.1,488.8 315.1,463.2 341.1,463.2" fill="#222222"/>
<ellipse cx="319.7" cy="507.7" rx="9.35" ry="10.45" fill="#b9b5dc" stroke="#827ec5" stroke-width="2.1"/>
<ellipse cx="337.5" cy="507.7" rx="9.35" ry="10.45" fill="#b9b5dc" stroke="#827ec5" stroke-width="2.1"/>
<text transform="translate(253.53,548.00) scale(0.9468,1)" font-size="28.5" fill="#222222" font-weight="bold">Acetyl-CoA</text>
<polygon points="288.9,436.0 284.1,439.3 279.6,442.6 275.3,446.1 271.2,449.6 267.4,453.2 263.8,456.9 260.5,460.6 257.3,464.3 254.4,468.2 251.7,472.0 249.2,475.9 246.9,479.9 244.8,483.9 242.9,487.9 241.2,491.9 239.7,496.0 238.4,500.0 237.2,504.1 236.3,508.2 235.5,512.3 235.0,516.4 234.6,520.5 234.3,524.6 234.3,528.7 234.4,532.7 234.6,536.7 235.0,540.8 235.6,544.7 236.3,548.7 237.2,552.6 238.2,556.4 239.3,560.2 240.6,564.0 242.1,567.7 243.6,571.4 245.3,574.9 247.1,578.5 249.0,581.9 251.0,585.3 253.2,588.6 254.8,587.4 252.7,584.2 250.8,580.9 248.9,577.5 247.1,574.0 245.5,570.5 244.0,566.9 242.6,563.3 241.4,559.6 240.3,555.8 239.3,552.1 238.5,548.2 237.8,544.4 237.2,540.5 236.9,536.6 236.6,532.6 236.5,528.7 236.6,524.7 236.9,520.7 237.3,516.7 237.9,512.7 238.6,508.7 239.5,504.7 240.7,500.7 242.0,496.8 243.4,492.8 245.1,488.9 247.0,485.0 249.0,481.1 251.3,477.2 253.8,473.4 256.4,469.7 259.3,465.9 262.4,462.3 265.7,458.6 269.2,455.1 273.0,451.6 277.0,448.1 281.2,444.7 285.7,441.4 290.3,438.2" fill="#222222"/>
<polygon points="258.3,595.6 248.0,587.5 257.3,582.5" fill="#222222"/>
<polygon points="230.0,689.7 225.3,683.7 221.0,677.5 217.0,671.3 213.3,665.1 209.9,658.7 206.8,652.3 204.0,645.8 201.5,639.3 199.2,632.7 197.3,626.1 195.6,619.4 194.2,612.7 193.1,606.0 192.2,599.2 191.6,592.5 191.3,585.7 191.2,578.9 191.4,572.1 191.8,565.3 192.5,558.6 193.4,551.8 194.6,545.0 196.0,538.3 197.6,531.6 199.5,525.0 201.6,518.3 203.9,511.8 206.4,505.2 209.2,498.8 212.1,492.3 215.3,486.0 218.7,479.7 222.3,473.5 226.1,467.4 230.1,461.4 234.2,455.4 238.6,449.6 243.2,443.9 247.9,438.3 252.8,432.7 251.2,431.3 246.2,436.8 241.5,442.5 236.9,448.3 232.5,454.2 228.2,460.1 224.2,466.2 220.4,472.4 216.8,478.7 213.4,485.0 210.2,491.4 207.2,497.9 204.4,504.4 201.8,511.0 199.5,517.6 197.4,524.3 195.5,531.1 193.8,537.8 192.4,544.6 191.2,551.5 190.3,558.3 189.6,565.2 189.2,572.0 189.0,578.9 189.1,585.8 189.4,592.6 190.0,599.5 190.9,606.3 192.0,613.1 193.5,619.9 195.2,626.7 197.1,633.4 199.4,640.0 202.0,646.7 204.8,653.2 208.0,659.7 211.4,666.1 215.1,672.5 219.2,678.8 223.6,685.0 228.2,691.1" fill="#222222"/>
<polygon points="257.6,426.0 252.7,438.7 244.9,430.9" fill="#222222"/>
<path id="pm" d="M191,682 C172,615 172,530 223.5,459.5" fill="none"/>
<text font-size="27.5" font-weight="bold" font-style="italic" fill="#111" textLength="231" lengthAdjust="spacingAndGlyphs"><textPath href="#pm" startOffset="0">pyruvate/malate cycle</textPath></text>
<ellipse cx="230.9" cy="617.3" rx="9.05" ry="10.15" fill="#b9b5dc" stroke="#5256a6" stroke-width="2.1"/>
<ellipse cx="250.1" cy="617.3" rx="9.05" ry="10.15" fill="#b9b5dc" stroke="#5256a6" stroke-width="2.1"/>
<ellipse cx="269.3" cy="617.3" rx="9.05" ry="10.15" fill="#fff" stroke="#2c5a2e" stroke-width="2.1"/>
<ellipse cx="288.5" cy="617.3" rx="9.05" ry="10.15" fill="#fff" stroke="#2c5a2e" stroke-width="2.1"/>
<text transform="translate(236.47,650.90) scale(0.9405,1)" font-size="27.4" fill="#222222" font-weight="bold">OAA</text>
<ellipse cx="183.9" cy="707.9" rx="8.85" ry="10.45" fill="#b9b5dc" stroke="#5256a6" stroke-width="2.1"/>
<ellipse cx="203.6" cy="707.9" rx="7.55" ry="10.45" fill="#b9b5dc" stroke="#5256a6" stroke-width="2.1"/>
<ellipse cx="221.0" cy="707.9" rx="8.15" ry="10.45" fill="#fff" stroke="#2c5a2e" stroke-width="2.1"/>
<ellipse cx="238.1" cy="707.9" rx="8.15" ry="10.45" fill="#fff" stroke="#2c5a2e" stroke-width="2.1"/>
<text transform="translate(233.85,741.50) scale(1.0413,1)" font-size="27.4" fill="#222222" font-weight="bold">MA</text>
<text transform="translate(322.85,680.60) scale(0.9305,1)" font-size="27.4" fill="#222222" font-weight="bold">TCA</text>
<text transform="translate(316.84,710.90) scale(0.9347,1)" font-size="27.4" fill="#222222" font-weight="bold">cycle</text>
<ellipse cx="327.8" cy="762.8" rx="9.05" ry="10.35" fill="#b9b5dc" stroke="#5256a6" stroke-width="2.1"/>
<ellipse cx="346.6" cy="762.8" rx="9.05" ry="10.35" fill="#b9b5dc" stroke="#5256a6" stroke-width="2.1"/>
<ellipse cx="366.0" cy="762.8" rx="9.05" ry="10.35" fill="#fff" stroke="#2c5a2e" stroke-width="2.1"/>
<ellipse cx="384.3" cy="762.8" rx="9.05" ry="10.35" fill="#fff" stroke="#2c5a2e" stroke-width="2.1"/>
<text transform="translate(338.68,801.10) scale(0.9550,1)" font-size="27.4" fill="#222222" font-weight="bold">SA</text>
<ellipse cx="446.7" cy="581.4" rx="9.25" ry="10.35" fill="#fff" stroke="#2c5a2e" stroke-width="2.1"/>
<ellipse cx="411.5" cy="602.8" rx="9.25" ry="10.55" fill="#b9b5dc" stroke="#5256a6" stroke-width="2.1"/>
<ellipse cx="430.5" cy="602.8" rx="7.15" ry="10.55" fill="#b9b5dc" stroke="#5256a6" stroke-width="2.1"/>
<ellipse cx="446.7" cy="602.8" rx="8.45" ry="10.55" fill="#fff" stroke="#2c5a2e" stroke-width="2.1"/>
<ellipse cx="464.3" cy="602.8" rx="8.45" ry="10.55" fill="#fff" stroke="#2c5a2e" stroke-width="2.1"/>
<ellipse cx="482.9" cy="602.8" rx="8.45" ry="10.55" fill="#fff" stroke="#2c5a2e" stroke-width="2.1"/>
<text transform="translate(418.06,640.50) scale(0.9468,1)" font-size="27.4" fill="#222222" font-weight="bold">CA</text>
<ellipse cx="441.9" cy="703.6" rx="8.95" ry="10.45" fill="#b9b5dc" stroke="#5256a6" stroke-width="2.1"/>
<ellipse cx="459.7" cy="703.6" rx="6.95" ry="10.45" fill="#b9b5dc" stroke="#5256a6" stroke-width="2.1"/>
<ellipse cx="475.7" cy="703.6" rx="8.45" ry="10.45" fill="#fff" stroke="#2c5a2e" stroke-width="2.1"/>
<ellipse cx="493.3" cy="703.6" rx="8.45" ry="10.45" fill="#fff" stroke="#2c5a2e" stroke-width="2.1"/>
<ellipse cx="511.5" cy="703.6" rx="8.45" ry="10.45" fill="#fff" stroke="#2c5a2e" stroke-width="2.1"/>
<text transform="translate(418.82,742.50) scale(0.9536,1)" font-size="27.4" fill="#222222" font-weight="bold">α-KG</text>
<path d="M332.8,561 C333,592 352,602 376,604.5" fill="none" stroke="#222222" stroke-width="3.2"/>
<path d="M307.1,610 C330,599 355,598 376,604" fill="none" stroke="#222222" stroke-width="3.2"/>
<polygon points="388.0,606.6 372.0,610.5 374.5,597.3" fill="#222222"/>
<path d="M448.1,643.6 C453,655 456,665 458.5,677" fill="none" stroke="#222222" stroke-width="3.3"/>
<polygon points="461.2,689.1 450.7,676.5 465.8,673.3" fill="#222222"/>
<path d="M450.8,749.2 C440,770 425,782 401,791" fill="none" stroke="#222222" stroke-width="3.3"/>
<polygon points="389.7,795.7 400.8,784.4 405.6,796.5" fill="#222222"/>
<path d="M332.3,796.2 C305,788 290,775 277,758" fill="none" stroke="#222222" stroke-width="2.6"/>
<polygon points="271.3,749.6 284.1,757.9 274.1,764.6" fill="#222222"/>
<path d="M262.5,664 C259,677 257.5,688 256.8,700" fill="none" stroke="#222222" stroke-width="2.8"/>
<polygon points="265.0,651.8 268.3,668.6 254.2,665.1" fill="#222222"/>
<polygon points="256.0,713.7 247.7,696.1 266.6,697.4" fill="#222222"/>
<circle cx="615.3" cy="608.5" r="5.4" fill="#7a9fd6"/>
<circle cx="615.3" cy="662" r="5.4" fill="#b08fdc"/>
<text transform="translate(651.07,620.30) scale(1.0000,1)" font-size="35.52" fill="#000" font-weight="bold">U13C Glucose-C</text>
<text transform="translate(651.07,673.80) scale(1.0000,1)" font-size="35.43" fill="#000" font-weight="bold">U13C Glucose-P</text>
<text transform="translate(532.92,37.10) scale(1.0000,1)" font-size="52" fill="#000" font-weight="bold">b</text>
<rect x="670.40" y="143.70" width="30.20" height="248.40" fill="#bed0e9" stroke="#27538f" stroke-width="1.8"/>
<rect x="719.40" y="193.90" width="30.10" height="198.20" fill="#d0c4e8" stroke="#4b288c" stroke-width="1.8"/>
<rect x="800.50" y="298.90" width="30.30" height="93.20" fill="#bed0e9" stroke="#27538f" stroke-width="1.8"/>
<rect x="849.40" y="248.70" width="30.00" height="143.40" fill="#d0c4e8" stroke="#4b288c" stroke-width="1.8"/>
<line x1="652.90" y1="45.20" x2="652.90" y2="393.80" stroke="#000" stroke-width="3.4" stroke-linecap="butt"/>
<line x1="639.50" y1="392.10" x2="898.00" y2="392.10" stroke="#000" stroke-width="3.4" stroke-linecap="butt"/>
<line x1="639.50" y1="46.90" x2="652.90" y2="46.90" stroke="#000" stroke-width="3.0" stroke-linecap="butt"/>
<text transform="translate(579.10,59.29) scale(1.0000,1)" font-size="34.6" fill="#000" font-weight="bold">100</text>
<line x1="639.50" y1="115.90" x2="652.90" y2="115.90" stroke="#000" stroke-width="3.0" stroke-linecap="butt"/>
<text transform="translate(598.39,128.29) scale(1.0000,1)" font-size="34.6" fill="#000" font-weight="bold">80</text>
<line x1="639.50" y1="185.00" x2="652.90" y2="185.00" stroke="#000" stroke-width="3.0" stroke-linecap="butt"/>
<text transform="translate(598.39,197.39) scale(1.0000,1)" font-size="34.6" fill="#000" font-weight="bold">60</text>
<line x1="639.50" y1="254.00" x2="652.90" y2="254.00" stroke="#000" stroke-width="3.0" stroke-linecap="butt"/>
<text transform="translate(598.39,266.39) scale(1.0000,1)" font-size="34.6" fill="#000" font-weight="bold">40</text>
<line x1="639.50" y1="323.10" x2="652.90" y2="323.10" stroke="#000" stroke-width="3.0" stroke-linecap="butt"/>
<text transform="translate(598.39,335.49) scale(1.0000,1)" font-size="34.6" fill="#000" font-weight="bold">20</text>
<text transform="translate(617.59,404.49) scale(1.0000,1)" font-size="34.6" fill="#000" font-weight="bold">0</text>
<line x1="710.00" y1="392.10" x2="710.00" y2="405.30" stroke="#000" stroke-width="3.2" stroke-linecap="butt"/>
<line x1="839.80" y1="392.10" x2="839.80" y2="405.30" stroke="#000" stroke-width="3.2" stroke-linecap="butt"/>
<text transform="translate(703.52,71.50) scale(1.0000,1)" font-size="34.55" fill="#000" font-weight="bold">G6P/F6P</text>
<text transform="translate(776.00,197.80) scale(1.0000,1)" font-size="26.23" fill="#000" font-weight="bold">p = 0.0010</text>
<line x1="815.10" y1="213.40" x2="864.10" y2="213.40" stroke="#000" stroke-width="3.2" stroke-linecap="butt"/>
<text transform="translate(675.20,438.50) scale(1.0000,1)" font-size="34.8" fill="#000" font-weight="bold">M+0</text>
<text transform="translate(804.91,438.50) scale(1.0000,1)" font-size="34.8" fill="#000" font-weight="bold">M+6</text>
<text transform="translate(562.70,299.17) rotate(-90) scale(1.0000,1)" font-size="34.38" fill="#000" font-weight="bold">% U<tspan font-size="0.77em" dy="-0.5325em">13</tspan><tspan font-size="1em" dy="0.4100em">C Glc</tspan></text>
<line x1="685.30" y1="114.90" x2="685.30" y2="170.00" stroke="#27538f" stroke-width="3.0" stroke-linecap="butt"/>
<line x1="677.05" y1="114.90" x2="693.55" y2="114.90" stroke="#27538f" stroke-width="3.0" stroke-linecap="butt"/>
<line x1="677.05" y1="170.00" x2="693.55" y2="170.00" stroke="#27538f" stroke-width="3.0" stroke-linecap="butt"/>
<line x1="734.50" y1="181.70" x2="734.50" y2="204.30" stroke="#4b288c" stroke-width="3.0" stroke-linecap="butt"/>
<line x1="726.25" y1="181.70" x2="742.75" y2="181.70" stroke="#4b288c" stroke-width="3.0" stroke-linecap="butt"/>
<line x1="726.25" y1="204.30" x2="742.75" y2="204.30" stroke="#4b288c" stroke-width="3.0" stroke-linecap="butt"/>
<line x1="815.30" y1="270.20" x2="815.30" y2="325.30" stroke="#27538f" stroke-width="3.0" stroke-linecap="butt"/>
<line x1="807.05" y1="270.20" x2="823.55" y2="270.20" stroke="#27538f" stroke-width="3.0" stroke-linecap="butt"/>
<line x1="807.05" y1="325.30" x2="823.55" y2="325.30" stroke="#27538f" stroke-width="3.0" stroke-linecap="butt"/>
<line x1="864.30" y1="235.90" x2="864.30" y2="258.90" stroke="#4b288c" stroke-width="3.0" stroke-linecap="butt"/>
<line x1="856.05" y1="235.90" x2="872.55" y2="235.90" stroke="#4b288c" stroke-width="3.0" stroke-linecap="butt"/>
<line x1="856.05" y1="258.90" x2="872.55" y2="258.90" stroke="#4b288c" stroke-width="3.0" stroke-linecap="butt"/>
<circle cx="685.3" cy="97.3" r="3.45" fill="#0000f5"/>
<circle cx="685.3" cy="130.7" r="3.45" fill="#0000f5"/>
<circle cx="685.3" cy="139.2" r="3.45" fill="#0000f5"/>
<circle cx="685.3" cy="149.7" r="3.45" fill="#0000f5"/>
<circle cx="685.3" cy="159.4" r="3.45" fill="#0000f5"/>
<circle cx="685.3" cy="179.0" r="3.45" fill="#0000f5"/>
<circle cx="733.9" cy="169.5" r="3.45" fill="#aa00e6"/>
<circle cx="721.1" cy="194.2" r="3.45" fill="#aa00e6"/>
<circle cx="729.8" cy="195.4" r="3.45" fill="#aa00e6"/>
<circle cx="747.4" cy="195.8" r="3.45" fill="#aa00e6"/>
<circle cx="721.1" cy="200.9" r="3.45" fill="#aa00e6"/>
<circle cx="738.9" cy="201.5" r="3.45" fill="#aa00e6"/>
<circle cx="815.3" cy="261.5" r="3.45" fill="#0000f5"/>
<circle cx="815.3" cy="280.8" r="3.45" fill="#0000f5"/>
<circle cx="815.3" cy="290.9" r="3.45" fill="#0000f5"/>
<circle cx="815.3" cy="301.0" r="3.45" fill="#0000f5"/>
<circle cx="815.3" cy="309.7" r="3.45" fill="#0000f5"/>
<circle cx="815.3" cy="343.0" r="3.45" fill="#0000f5"/>
<circle cx="851.1" cy="239.3" r="3.45" fill="#aa00e6"/>
<circle cx="868.3" cy="239.3" r="3.45" fill="#aa00e6"/>
<circle cx="859.6" cy="244.4" r="3.45" fill="#aa00e6"/>
<circle cx="876.8" cy="244.0" r="3.45" fill="#aa00e6"/>
<circle cx="868.3" cy="246.0" r="3.45" fill="#aa00e6"/>
<circle cx="863.7" cy="270.6" r="3.45" fill="#aa00e6"/>
<text transform="translate(990.15,38.60) scale(1.0000,1)" font-size="52" fill="#000" font-weight="bold">c</text>
<rect x="1134.90" y="180.30" width="29.40" height="211.30" fill="#bed0e9" stroke="#27538f" stroke-width="1.8"/>
<rect x="1182.20" y="268.10" width="29.40" height="123.50" fill="#d0c4e8" stroke="#4b288c" stroke-width="1.8"/>
<rect x="1260.60" y="377.80" width="29.50" height="13.80" fill="#bed0e9" stroke="#27538f" stroke-width="1.8"/>
<rect x="1307.50" y="289.50" width="29.50" height="102.10" fill="#d0c4e8" stroke="#4b288c" stroke-width="1.8"/>
<line x1="1118.20" y1="47.30" x2="1118.20" y2="393.30" stroke="#000" stroke-width="3.4" stroke-linecap="butt"/>
<line x1="1105.00" y1="391.60" x2="1355.10" y2="391.60" stroke="#000" stroke-width="3.4" stroke-linecap="butt"/>
<line x1="1105.00" y1="70.50" x2="1118.20" y2="70.50" stroke="#000" stroke-width="3.0" stroke-linecap="butt"/>
<text transform="translate(1044.55,82.74) scale(1.0000,1)" font-size="34.2" fill="#000" font-weight="bold">140</text>
<line x1="1105.00" y1="116.37" x2="1118.20" y2="116.37" stroke="#000" stroke-width="3.0" stroke-linecap="butt"/>
<text transform="translate(1044.55,128.62) scale(1.0000,1)" font-size="34.2" fill="#000" font-weight="bold">120</text>
<line x1="1105.00" y1="162.24" x2="1118.20" y2="162.24" stroke="#000" stroke-width="3.0" stroke-linecap="butt"/>
<text transform="translate(1044.55,174.49) scale(1.0000,1)" font-size="34.2" fill="#000" font-weight="bold">100</text>
<line x1="1105.00" y1="208.11" x2="1118.20" y2="208.11" stroke="#000" stroke-width="3.0" stroke-linecap="butt"/>
<text transform="translate(1063.62,220.36) scale(1.0000,1)" font-size="34.2" fill="#000" font-weight="bold">80</text>
<line x1="1105.00" y1="253.99" x2="1118.20" y2="253.99" stroke="#000" stroke-width="3.0" stroke-linecap="butt"/>
<text transform="translate(1063.62,266.23) scale(1.0000,1)" font-size="34.2" fill="#000" font-weight="bold">60</text>
<line x1="1105.00" y1="299.86" x2="1118.20" y2="299.86" stroke="#000" stroke-width="3.0" stroke-linecap="butt"/>
<text transform="translate(1063.62,312.10) scale(1.0000,1)" font-size="34.2" fill="#000" font-weight="bold">40</text>
<line x1="1105.00" y1="345.73" x2="1118.20" y2="345.73" stroke="#000" stroke-width="3.0" stroke-linecap="butt"/>
<text transform="translate(1063.62,357.97) scale(1.0000,1)" font-size="34.2" fill="#000" font-weight="bold">20</text>
<text transform="translate(1082.60,403.84) scale(1.0000,1)" font-size="34.2" fill="#000" font-weight="bold">0</text>
<line x1="1172.50" y1="391.60" x2="1172.50" y2="404.80" stroke="#000" stroke-width="3.2" stroke-linecap="butt"/>
<line x1="1298.30" y1="391.60" x2="1298.30" y2="404.80" stroke="#000" stroke-width="3.2" stroke-linecap="butt"/>
<text transform="translate(1162.13,71.80) scale(1.0000,1)" font-size="34.24" fill="#000" font-weight="bold">3PG-2PG</text>
<text transform="translate(1236.15,223.70) scale(1.0000,1)" font-size="25.37" fill="#000" font-weight="bold">p &lt; 0.0001</text>
<line x1="1275.00" y1="238.80" x2="1321.60" y2="238.80" stroke="#000" stroke-width="3.2" stroke-linecap="butt"/>
<text transform="translate(1137.80,439.10) scale(1.0000,1)" font-size="34.7" fill="#000" font-weight="bold">M+0</text>
<text transform="translate(1264.47,439.10) scale(1.0000,1)" font-size="34.35" fill="#000" font-weight="bold">M+3</text>
<text transform="translate(1029.00,297.25) rotate(-90) scale(1.0000,1)" font-size="33.45" fill="#000" font-weight="bold">% U<tspan font-size="0.77em" dy="-0.5325em">13</tspan><tspan font-size="1em" dy="0.4100em">C Glc</tspan></text>
<line x1="1149.30" y1="160.30" x2="1149.30" y2="196.40" stroke="#27538f" stroke-width="3.0" stroke-linecap="butt"/>
<line x1="1141.55" y1="160.30" x2="1157.05" y2="160.30" stroke="#27538f" stroke-width="3.0" stroke-linecap="butt"/>
<line x1="1141.55" y1="196.40" x2="1157.05" y2="196.40" stroke="#27538f" stroke-width="3.0" stroke-linecap="butt"/>
<line x1="1196.30" y1="237.10" x2="1196.30" y2="296.90" stroke="#4b288c" stroke-width="3.0" stroke-linecap="butt"/>
<line x1="1188.55" y1="237.10" x2="1204.05" y2="237.10" stroke="#4b288c" stroke-width="3.0" stroke-linecap="butt"/>
<line x1="1188.55" y1="296.90" x2="1204.05" y2="296.90" stroke="#4b288c" stroke-width="3.0" stroke-linecap="butt"/>
<line x1="1275.10" y1="358.80" x2="1275.10" y2="391.60" stroke="#27538f" stroke-width="3.0" stroke-linecap="butt"/>
<line x1="1267.35" y1="358.80" x2="1282.85" y2="358.80" stroke="#27538f" stroke-width="3.0" stroke-linecap="butt"/>
<line x1="1322.00" y1="257.60" x2="1322.00" y2="317.90" stroke="#4b288c" stroke-width="3.0" stroke-linecap="butt"/>
<line x1="1314.25" y1="257.60" x2="1329.75" y2="257.60" stroke="#4b288c" stroke-width="3.0" stroke-linecap="butt"/>
<line x1="1314.25" y1="317.90" x2="1329.75" y2="317.90" stroke="#4b288c" stroke-width="3.0" stroke-linecap="butt"/>
<circle cx="1143.0" cy="165.6" r="3.45" fill="#0000f5"/>
<circle cx="1155.6" cy="163.5" r="3.45" fill="#0000f5"/>
<circle cx="1155.6" cy="170.0" r="3.45" fill="#0000f5"/>
<circle cx="1149.3" cy="177.5" r="3.45" fill="#0000f5"/>
<circle cx="1149.3" cy="185.4" r="3.45" fill="#0000f5"/>
<circle cx="1149.3" cy="210.4" r="3.45" fill="#0000f5"/>
<circle cx="1196.3" cy="224.1" r="3.45" fill="#aa00e6"/>
<circle cx="1190.3" cy="247.3" r="3.45" fill="#aa00e6"/>
<circle cx="1202.5" cy="251.1" r="3.45" fill="#aa00e6"/>
<circle cx="1196.3" cy="287.0" r="3.45" fill="#aa00e6"/>
<circle cx="1190.3" cy="295.9" r="3.45" fill="#aa00e6"/>
<circle cx="1202.5" cy="295.5" r="3.45" fill="#aa00e6"/>
<circle cx="1275.1" cy="344.8" r="3.45" fill="#0000f5"/>
<circle cx="1275.1" cy="369.7" r="3.45" fill="#0000f5"/>
<circle cx="1275.1" cy="377.7" r="3.45" fill="#0000f5"/>
<circle cx="1268.7" cy="384.7" r="3.45" fill="#0000f5"/>
<circle cx="1268.7" cy="391.3" r="3.45" fill="#0000f5"/>
<circle cx="1281.3" cy="389.9" r="3.45" fill="#0000f5"/>
<circle cx="1315.6" cy="259.6" r="3.45" fill="#aa00e6"/>
<circle cx="1328.1" cy="259.2" r="3.45" fill="#aa00e6"/>
<circle cx="1322.0" cy="268.0" r="3.45" fill="#aa00e6"/>
<circle cx="1315.6" cy="304.3" r="3.45" fill="#aa00e6"/>
<circle cx="1328.1" cy="307.5" r="3.45" fill="#aa00e6"/>
<circle cx="1322.0" cy="330.4" r="3.45" fill="#aa00e6"/>
<text transform="translate(1011.32,477.30) scale(1.0000,1)" font-size="52" fill="#000" font-weight="bold">d</text>
<rect x="1172.90" y="660.50" width="62.40" height="167.50" fill="#d4d4d4" stroke="#000" stroke-width="2.0"/>
<rect x="1269.90" y="556.80" width="62.40" height="271.20" fill="#606060" stroke="#000" stroke-width="2.0"/>
<line x1="1139.20" y1="486.50" x2="1139.20" y2="829.70" stroke="#000" stroke-width="3.4" stroke-linecap="butt"/>
<line x1="1125.20" y1="828.00" x2="1367.40" y2="828.00" stroke="#000" stroke-width="3.4" stroke-linecap="butt"/>
<line x1="1125.20" y1="488.20" x2="1139.20" y2="488.20" stroke="#000" stroke-width="3.0" stroke-linecap="butt"/>
<text transform="translate(1069.11,501.80) scale(1.0000,1)" font-size="38" fill="#000" font-weight="bold">2.0</text>
<line x1="1125.20" y1="572.90" x2="1139.20" y2="572.90" stroke="#000" stroke-width="3.0" stroke-linecap="butt"/>
<text transform="translate(1068.63,586.50) scale(1.0000,1)" font-size="38" fill="#000" font-weight="bold">1.5</text>
<line x1="1125.20" y1="657.70" x2="1139.20" y2="657.70" stroke="#000" stroke-width="3.0" stroke-linecap="butt"/>
<text transform="translate(1069.11,671.30) scale(1.0000,1)" font-size="38" fill="#000" font-weight="bold">1.0</text>
<line x1="1125.20" y1="742.80" x2="1139.20" y2="742.80" stroke="#000" stroke-width="3.0" stroke-linecap="butt"/>
<text transform="translate(1068.63,756.40) scale(1.0000,1)" font-size="38" fill="#000" font-weight="bold">0.5</text>
<text transform="translate(1069.11,841.60) scale(1.0000,1)" font-size="38" fill="#000" font-weight="bold">0.0</text>
<line x1="1204.00" y1="828.00" x2="1204.00" y2="842.80" stroke="#000" stroke-width="3.2" stroke-linecap="butt"/>
<line x1="1301.00" y1="828.00" x2="1301.00" y2="842.80" stroke="#000" stroke-width="3.2" stroke-linecap="butt"/>
<text transform="translate(1182.77,516.80) scale(1.0000,1)" font-size="28.14" fill="#000" font-weight="bold">P &lt; 0.0001</text>
<line x1="1204.20" y1="533.60" x2="1301.00" y2="533.60" stroke="#000" stroke-width="3.2" stroke-linecap="butt"/>
<text transform="translate(1190.23,879.80) scale(1.0000,1)" font-size="36.79" fill="#000" font-weight="bold">C</text>
<text transform="translate(1288.82,879.80) scale(1.0000,1)" font-size="36.67" fill="#000" font-weight="bold">P</text>
<text transform="translate(1047.40,748.23) rotate(-90) scale(1.0000,1)" font-size="37.31" fill="#000" font-weight="bold">PK Activity</text>
<line x1="1188.00" y1="658.40" x2="1220.30" y2="658.40" stroke="#000" stroke-width="3.2" stroke-linecap="butt"/>
<circle cx="1178.4" cy="659.5" r="6.6" fill="#000"/>
<circle cx="1204.0" cy="658.0" r="6.6" fill="#000"/>
<circle cx="1229.9" cy="657.3" r="6.6" fill="#000"/>
<line x1="1301.00" y1="547.60" x2="1301.00" y2="561.40" stroke="#000" stroke-width="3.0" stroke-linecap="butt"/>
<line x1="1285.50" y1="547.60" x2="1316.50" y2="547.60" stroke="#000" stroke-width="3.0" stroke-linecap="butt"/>
<line x1="1285.50" y1="561.40" x2="1316.50" y2="561.40" stroke="#000" stroke-width="3.0" stroke-linecap="butt"/>
<polygon points="1287.2,540.8 1294.5,555.2 1280.0,555.2" fill="#000"/>
<polygon points="1287.2,555.2 1294.5,569.8 1280.0,569.8" fill="#000"/>
<polygon points="1315.5,550.1 1322.8,564.6 1308.2,564.6" fill="#000"/>
<text transform="translate(41.75,918.30) scale(1.0000,1)" font-size="52" fill="#000" font-weight="bold">e</text>
<rect x="192.90" y="1147.90" width="65.40" height="181.50" fill="#d4d4d4" stroke="#000" stroke-width="2.0"/>
<rect x="294.70" y="1062.80" width="65.50" height="266.60" fill="#606060" stroke="#000" stroke-width="2.0"/>
<line x1="158.00" y1="961.30" x2="158.00" y2="1331.10" stroke="#000" stroke-width="3.4" stroke-linecap="butt"/>
<line x1="142.70" y1="1329.40" x2="397.50" y2="1329.40" stroke="#000" stroke-width="3.4" stroke-linecap="butt"/>
<line x1="142.70" y1="963.10" x2="158.00" y2="963.10" stroke="#000" stroke-width="3.0" stroke-linecap="butt"/>
<text transform="translate(84.25,977.06) scale(1.0000,1)" font-size="39" fill="#000" font-weight="bold">2.0</text>
<line x1="142.70" y1="1054.70" x2="158.00" y2="1054.70" stroke="#000" stroke-width="3.0" stroke-linecap="butt"/>
<text transform="translate(83.77,1068.66) scale(1.0000,1)" font-size="39" fill="#000" font-weight="bold">1.5</text>
<line x1="142.70" y1="1146.20" x2="158.00" y2="1146.20" stroke="#000" stroke-width="3.0" stroke-linecap="butt"/>
<text transform="translate(84.25,1160.16) scale(1.0000,1)" font-size="39" fill="#000" font-weight="bold">1.0</text>
<line x1="142.70" y1="1237.80" x2="158.00" y2="1237.80" stroke="#000" stroke-width="3.0" stroke-linecap="butt"/>
<text transform="translate(83.77,1251.76) scale(1.0000,1)" font-size="39" fill="#000" font-weight="bold">0.5</text>
<text transform="translate(84.25,1343.36) scale(1.0000,1)" font-size="39" fill="#000" font-weight="bold">0.0</text>
<line x1="225.00" y1="1329.40" x2="225.00" y2="1344.70" stroke="#000" stroke-width="3.2" stroke-linecap="butt"/>
<line x1="327.20" y1="1329.40" x2="327.20" y2="1344.70" stroke="#000" stroke-width="3.2" stroke-linecap="butt"/>
<text transform="translate(204.15,968.50) scale(1.0000,1)" font-size="29.95" fill="#000" font-weight="bold">p = 0.0395</text>
<line x1="225.60" y1="986.10" x2="327.20" y2="986.10" stroke="#000" stroke-width="3.4" stroke-linecap="butt"/>
<text transform="translate(210.52,1385.40) scale(1.0000,1)" font-size="39.54" fill="#000" font-weight="bold">C</text>
<text transform="translate(313.64,1385.40) scale(1.0000,1)" font-size="40.88" fill="#000" font-weight="bold">P</text>
<text transform="translate(61.40,1258.11) rotate(-90) scale(1.0000,1)" font-size="40.08" fill="#000" font-weight="bold">PDH Activity</text>
<line x1="225.00" y1="1132.60" x2="225.00" y2="1160.60" stroke="#000" stroke-width="3.0" stroke-linecap="butt"/>
<line x1="208.00" y1="1132.60" x2="242.00" y2="1132.60" stroke="#000" stroke-width="3.0" stroke-linecap="butt"/>
<line x1="208.00" y1="1160.60" x2="242.00" y2="1160.60" stroke="#000" stroke-width="3.0" stroke-linecap="butt"/>
<circle cx="210.5" cy="1137.3" r="7.4" fill="#000"/>
<circle cx="239.8" cy="1140.4" r="7.4" fill="#000"/>
<circle cx="225.0" cy="1161.1" r="7.4" fill="#000"/>
<line x1="327.20" y1="1013.30" x2="327.20" y2="1108.00" stroke="#000" stroke-width="1.7" stroke-linecap="butt"/>
<line x1="309.95" y1="1013.30" x2="344.45" y2="1013.30" stroke="#000" stroke-width="1.7" stroke-linecap="butt"/>
<line x1="309.95" y1="1108.00" x2="344.45" y2="1108.00" stroke="#000" stroke-width="1.7" stroke-linecap="butt"/>
<polygon points="327.2,999.9 334.9,1013.9 319.4,1013.9" fill="#000"/>
<polygon points="327.2,1071.2 334.9,1085.2 319.4,1085.2" fill="#000"/>
<polygon points="327.2,1090.6 334.9,1104.6 319.4,1104.6" fill="#000"/>
<text transform="translate(457.42,918.10) scale(1.0000,1)" font-size="52" fill="#000" font-weight="bold">f</text>
<rect x="600.60" y="1199.00" width="59.50" height="21.80" fill="#d4d4d4" stroke="#000" stroke-width="2.0"/>
<rect x="694.70" y="1032.00" width="59.50" height="167.00" fill="#606060" stroke="#000" stroke-width="2.0"/>
<line x1="551.70" y1="1199.00" x2="787.60" y2="1199.00" stroke="#000" stroke-width="3.4" stroke-linecap="butt"/>
<line x1="568.00" y1="944.80" x2="568.00" y2="1326.70" stroke="#000" stroke-width="3.4" stroke-linecap="butt"/>
<line x1="551.70" y1="1325.00" x2="789.40" y2="1325.00" stroke="#000" stroke-width="3.4" stroke-linecap="butt"/>
<line x1="552.00" y1="946.80" x2="568.00" y2="946.80" stroke="#000" stroke-width="3.0" stroke-linecap="butt"/>
<text transform="translate(502.69,961.19) scale(1.0000,1)" font-size="40.2" fill="#000" font-weight="bold">10</text>
<line x1="552.00" y1="1072.90" x2="568.00" y2="1072.90" stroke="#000" stroke-width="3.0" stroke-linecap="butt"/>
<text transform="translate(524.49,1087.29) scale(1.0000,1)" font-size="40.2" fill="#000" font-weight="bold">5</text>
<text transform="translate(525.00,1213.39) scale(1.0000,1)" font-size="40.2" fill="#000" font-weight="bold">0</text>
<text transform="translate(511.13,1339.39) scale(1.0000,1)" font-size="40.2" fill="#000" font-weight="bold">-5</text>
<line x1="630.00" y1="1325.00" x2="630.00" y2="1341.30" stroke="#000" stroke-width="3.2" stroke-linecap="butt"/>
<line x1="724.10" y1="1325.00" x2="724.10" y2="1341.30" stroke="#000" stroke-width="3.2" stroke-linecap="butt"/>
<text transform="translate(600.93,956.30) scale(1.0000,1)" font-size="31.78" fill="#000" font-weight="bold">p = 0.0179</text>
<line x1="630.20" y1="975.00" x2="724.10" y2="975.00" stroke="#000" stroke-width="3.4" stroke-linecap="butt"/>
<text transform="translate(615.37,1382.80) scale(1.0000,1)" font-size="40.76" fill="#000" font-weight="bold">C</text>
<text transform="translate(710.54,1382.80) scale(1.0000,1)" font-size="40.88" fill="#000" font-weight="bold">P</text>
<text transform="translate(479.80,1274.55) rotate(-90) scale(1.0000,1)" font-size="42.02" fill="#000" font-weight="bold">Ac-CoA (ng/ul)</text>
<line x1="630.00" y1="1143.00" x2="630.00" y2="1299.80" stroke="#000" stroke-width="1.7" stroke-linecap="butt"/>
<line x1="614.50" y1="1143.00" x2="645.50" y2="1143.00" stroke="#000" stroke-width="1.7" stroke-linecap="butt"/>
<line x1="614.50" y1="1299.80" x2="645.50" y2="1299.80" stroke="#000" stroke-width="1.7" stroke-linecap="butt"/>
<circle cx="630.0" cy="1149.5" r="7.6" fill="#000"/>
<circle cx="630.0" cy="1210.4" r="7.6" fill="#000"/>
<circle cx="630.0" cy="1305.0" r="7.6" fill="#000"/>
<line x1="724.10" y1="996.50" x2="724.10" y2="1064.70" stroke="#000" stroke-width="1.7" stroke-linecap="butt"/>
<line x1="708.60" y1="996.50" x2="739.60" y2="996.50" stroke="#000" stroke-width="1.7" stroke-linecap="butt"/>
<line x1="708.60" y1="1064.70" x2="739.60" y2="1064.70" stroke="#000" stroke-width="1.7" stroke-linecap="butt"/>
<polygon points="724.1,990.5 731.9,1005.0 716.4,1005.0" fill="#000"/>
<polygon points="724.1,1024.2 731.9,1038.8 716.4,1038.8" fill="#000"/>
<polygon points="724.1,1059.8 731.9,1074.2 716.4,1074.2" fill="#000"/>
<text transform="translate(804.32,915.80) scale(1.0000,1)" font-size="52" fill="#000" font-weight="bold">g</text>
<rect x="949.80" y="997.50" width="22.80" height="336.00" fill="#bed0e9" stroke="#27538f" stroke-width="1.8"/>
<rect x="987.30" y="1011.70" width="23.00" height="321.80" fill="#d0c4e8" stroke="#4b288c" stroke-width="1.8"/>
<rect x="1049.60" y="1272.30" width="23.00" height="61.20" fill="#bed0e9" stroke="#27538f" stroke-width="1.8"/>
<rect x="1087.60" y="1189.90" width="22.30" height="143.60" fill="#d0c4e8" stroke="#4b288c" stroke-width="1.8"/>
<rect x="1149.30" y="1329.70" width="23.10" height="3.80" fill="#bed0e9" stroke="#27538f" stroke-width="1.8"/>
<rect x="1187.20" y="1319.90" width="22.40" height="13.60" fill="#d0c4e8" stroke="#4b288c" stroke-width="1.8"/>
<rect x="1249.90" y="1285.60" width="22.40" height="47.90" fill="#bed0e9" stroke="#27538f" stroke-width="1.8"/>
<rect x="1287.00" y="1268.20" width="22.60" height="65.30" fill="#d0c4e8" stroke="#4b288c" stroke-width="1.8"/>
<rect x="1349.30" y="1325.50" width="22.40" height="8.00" fill="#bed0e9" stroke="#27538f" stroke-width="1.8"/>
<rect x="1387.00" y="1317.30" width="22.40" height="16.20" fill="#d0c4e8" stroke="#4b288c" stroke-width="1.8"/>
<rect x="925.00" y="1109.30" width="89.00" height="36.40" fill="#fff"/>
<line x1="936.30" y1="919.10" x2="936.30" y2="1109.20" stroke="#000" stroke-width="3.4" stroke-linecap="butt"/>
<line x1="936.30" y1="1143.90" x2="936.30" y2="1335.20" stroke="#000" stroke-width="3.4" stroke-linecap="butt"/>
<line x1="928.00" y1="1107.70" x2="944.70" y2="1107.70" stroke="#000" stroke-width="3.0" stroke-linecap="butt"/>
<line x1="928.00" y1="1145.40" x2="944.70" y2="1145.40" stroke="#000" stroke-width="3.0" stroke-linecap="butt"/>
<line x1="922.00" y1="1333.50" x2="1424.80" y2="1333.50" stroke="#000" stroke-width="3.4" stroke-linecap="butt"/>
<line x1="922.00" y1="920.80" x2="936.30" y2="920.80" stroke="#000" stroke-width="3.0" stroke-linecap="butt"/>
<text transform="translate(853.63,934.48) scale(1.0000,1)" font-size="38.2" fill="#000" font-weight="bold">120</text>
<line x1="922.00" y1="983.10" x2="936.30" y2="983.10" stroke="#000" stroke-width="3.0" stroke-linecap="butt"/>
<text transform="translate(853.63,996.78) scale(1.0000,1)" font-size="38.2" fill="#000" font-weight="bold">100</text>
<line x1="922.00" y1="1045.40" x2="936.30" y2="1045.40" stroke="#000" stroke-width="3.0" stroke-linecap="butt"/>
<text transform="translate(874.93,1059.08) scale(1.0000,1)" font-size="38.2" fill="#000" font-weight="bold">80</text>
<text transform="translate(874.93,1121.38) scale(1.0000,1)" font-size="38.2" fill="#000" font-weight="bold">60</text>
<line x1="922.00" y1="1208.10" x2="936.30" y2="1208.10" stroke="#000" stroke-width="3.0" stroke-linecap="butt"/>
<text transform="translate(894.79,1221.78) scale(1.0000,1)" font-size="38.2" fill="#000" font-weight="bold">4</text>
<line x1="922.00" y1="1270.80" x2="936.30" y2="1270.80" stroke="#000" stroke-width="3.0" stroke-linecap="butt"/>
<text transform="translate(896.13,1284.48) scale(1.0000,1)" font-size="38.2" fill="#000" font-weight="bold">2</text>
<text transform="translate(895.94,1159.08) scale(1.0000,1)" font-size="38.2" fill="#000" font-weight="bold">6</text>
<text transform="translate(896.13,1347.18) scale(1.0000,1)" font-size="38.2" fill="#000" font-weight="bold">0</text>
<line x1="979.70" y1="1333.50" x2="979.70" y2="1348.00" stroke="#000" stroke-width="3.2" stroke-linecap="butt"/>
<line x1="1079.50" y1="1333.50" x2="1079.50" y2="1348.00" stroke="#000" stroke-width="3.2" stroke-linecap="butt"/>
<line x1="1179.20" y1="1333.50" x2="1179.20" y2="1348.00" stroke="#000" stroke-width="3.2" stroke-linecap="butt"/>
<line x1="1278.80" y1="1333.50" x2="1278.80" y2="1348.00" stroke="#000" stroke-width="3.2" stroke-linecap="butt"/>
<line x1="1378.40" y1="1333.50" x2="1378.40" y2="1348.00" stroke="#000" stroke-width="3.2" stroke-linecap="butt"/>
<text transform="translate(1085.06,950.30) scale(1.0000,1)" font-size="38.54" fill="#000" font-weight="bold">Citric Acid</text>
<text transform="translate(1009.95,1130.60) scale(1.0000,1)" font-size="28.53" fill="#000" font-weight="bold">p &lt; 0.0001</text>
<line x1="1061.10" y1="1147.00" x2="1098.80" y2="1147.00" stroke="#000" stroke-width="3.0" stroke-linecap="butt"/>
<text transform="translate(1108.90,1276.00) scale(1.0000,1)" font-size="29.18" fill="#000" font-weight="bold">p = 0.9608</text>
<line x1="1160.80" y1="1293.60" x2="1198.10" y2="1293.60" stroke="#000" stroke-width="3.0" stroke-linecap="butt"/>
<text transform="translate(1208.79,1182.80) scale(1.0000,1)" font-size="29.34" fill="#000" font-weight="bold">p = 0.8519</text>
<line x1="1260.80" y1="1199.40" x2="1298.10" y2="1199.40" stroke="#000" stroke-width="3.0" stroke-linecap="butt"/>
<text transform="translate(1309.20,1272.90) scale(1.0000,1)" font-size="29.16" fill="#000" font-weight="bold">p = 0.9654</text>
<line x1="1360.20" y1="1290.10" x2="1397.90" y2="1290.10" stroke="#000" stroke-width="3.0" stroke-linecap="butt"/>
<text transform="translate(940.97,1387.80) scale(1.0000,1)" font-size="38.98" fill="#000" font-weight="bold">M+0</text>
<text transform="translate(1040.97,1387.80) scale(1.0000,1)" font-size="38.98" fill="#000" font-weight="bold">M+2</text>
<text transform="translate(1140.77,1387.80) scale(1.0000,1)" font-size="38.93" fill="#000" font-weight="bold">M+3</text>
<text transform="translate(1240.71,1387.80) scale(1.0000,1)" font-size="38.37" fill="#000" font-weight="bold">M+4</text>
<text transform="translate(1340.48,1387.80) scale(1.0000,1)" font-size="38.83" fill="#000" font-weight="bold">M+5</text>
<text transform="translate(836.20,1214.45) rotate(-90) scale(1.0000,1)" font-size="37.9" fill="#000" font-weight="bold">% U<tspan font-size="0.77em" dy="-0.5325em">13</tspan><tspan font-size="1em" dy="0.4100em">C Glc</tspan></text>
<line x1="961.00" y1="987.70" x2="961.00" y2="1003.80" stroke="#27538f" stroke-width="2.8" stroke-linecap="butt"/>
<line x1="955.75" y1="987.70" x2="966.25" y2="987.70" stroke="#27538f" stroke-width="2.8" stroke-linecap="butt"/>
<line x1="955.75" y1="1003.80" x2="966.25" y2="1003.80" stroke="#27538f" stroke-width="2.8" stroke-linecap="butt"/>
<line x1="1061.10" y1="1235.00" x2="1061.10" y2="1306.00" stroke="#27538f" stroke-width="2.8" stroke-linecap="butt"/>
<line x1="1054.60" y1="1235.00" x2="1067.60" y2="1235.00" stroke="#27538f" stroke-width="2.8" stroke-linecap="butt"/>
<line x1="1054.60" y1="1306.00" x2="1067.60" y2="1306.00" stroke="#27538f" stroke-width="2.8" stroke-linecap="butt"/>
<line x1="1098.80" y1="1168.30" x2="1098.80" y2="1208.30" stroke="#4b288c" stroke-width="2.8" stroke-linecap="butt"/>
<line x1="1092.30" y1="1168.30" x2="1105.30" y2="1168.30" stroke="#4b288c" stroke-width="2.8" stroke-linecap="butt"/>
<line x1="1092.30" y1="1208.30" x2="1105.30" y2="1208.30" stroke="#4b288c" stroke-width="2.8" stroke-linecap="butt"/>
<line x1="1160.90" y1="1323.00" x2="1160.90" y2="1331.00" stroke="#27538f" stroke-width="2.8" stroke-linecap="butt"/>
<line x1="1154.40" y1="1323.00" x2="1167.40" y2="1323.00" stroke="#27538f" stroke-width="2.8" stroke-linecap="butt"/>
<line x1="1154.40" y1="1331.00" x2="1167.40" y2="1331.00" stroke="#27538f" stroke-width="2.8" stroke-linecap="butt"/>
<line x1="1198.40" y1="1316.50" x2="1198.40" y2="1320.50" stroke="#4b288c" stroke-width="2.2" stroke-linecap="butt"/>
<line x1="1192.40" y1="1316.50" x2="1204.40" y2="1316.50" stroke="#4b288c" stroke-width="2.2" stroke-linecap="butt"/>
<line x1="1192.40" y1="1320.50" x2="1204.40" y2="1320.50" stroke="#4b288c" stroke-width="2.2" stroke-linecap="butt"/>
<line x1="1260.80" y1="1249.10" x2="1260.80" y2="1318.40" stroke="#27538f" stroke-width="2.8" stroke-linecap="butt"/>
<line x1="1254.55" y1="1249.10" x2="1267.05" y2="1249.10" stroke="#27538f" stroke-width="2.8" stroke-linecap="butt"/>
<line x1="1254.55" y1="1318.40" x2="1267.05" y2="1318.40" stroke="#27538f" stroke-width="2.8" stroke-linecap="butt"/>
<line x1="1298.10" y1="1247.60" x2="1298.10" y2="1285.30" stroke="#4b288c" stroke-width="2.8" stroke-linecap="butt"/>
<line x1="1291.85" y1="1247.60" x2="1304.35" y2="1247.60" stroke="#4b288c" stroke-width="2.8" stroke-linecap="butt"/>
<line x1="1291.85" y1="1285.30" x2="1304.35" y2="1285.30" stroke="#4b288c" stroke-width="2.8" stroke-linecap="butt"/>
<line x1="1360.50" y1="1322.50" x2="1360.50" y2="1327.50" stroke="#27538f" stroke-width="2.8" stroke-linecap="butt"/>
<line x1="1354.00" y1="1322.50" x2="1367.00" y2="1322.50" stroke="#27538f" stroke-width="2.8" stroke-linecap="butt"/>
<line x1="1354.00" y1="1327.50" x2="1367.00" y2="1327.50" stroke="#27538f" stroke-width="2.8" stroke-linecap="butt"/>
<line x1="1398.20" y1="1314.50" x2="1398.20" y2="1318.00" stroke="#4b288c" stroke-width="2.2" stroke-linecap="butt"/>
<line x1="1392.20" y1="1314.50" x2="1404.20" y2="1314.50" stroke="#4b288c" stroke-width="2.2" stroke-linecap="butt"/>
<line x1="1392.20" y1="1318.00" x2="1404.20" y2="1318.00" stroke="#4b288c" stroke-width="2.2" stroke-linecap="butt"/>
<circle cx="952.2" cy="988.1" r="3.4" fill="#0000f5"/>
<circle cx="964.6" cy="990.8" r="3.4" fill="#0000f5"/>
<circle cx="970.8" cy="993.3" r="3.4" fill="#0000f5"/>
<circle cx="958.4" cy="993.9" r="3.4" fill="#0000f5"/>
<circle cx="964.6" cy="1000.1" r="3.4" fill="#0000f5"/>
<circle cx="960.9" cy="1008.4" r="3.4" fill="#0000f5"/>
<circle cx="993.2" cy="1004.2" r="3.4" fill="#aa00e6"/>
<circle cx="1000.4" cy="1004.2" r="3.4" fill="#aa00e6"/>
<circle cx="1007.7" cy="1008.4" r="3.4" fill="#aa00e6"/>
<circle cx="989.4" cy="1010.8" r="3.4" fill="#aa00e6"/>
<circle cx="996.7" cy="1010.0" r="3.4" fill="#aa00e6"/>
<circle cx="1003.9" cy="1012.5" r="3.4" fill="#aa00e6"/>
<circle cx="1061.1" cy="1226.7" r="3.4" fill="#0000f5"/>
<circle cx="1061.1" cy="1238.3" r="3.4" fill="#0000f5"/>
<circle cx="1061.1" cy="1268.1" r="3.4" fill="#0000f5"/>
<circle cx="1051.8" cy="1281.8" r="3.4" fill="#0000f5"/>
<circle cx="1070.2" cy="1283.2" r="3.4" fill="#0000f5"/>
<circle cx="1061.1" cy="1326.1" r="3.4" fill="#0000f5"/>
<circle cx="1107.7" cy="1167.3" r="3.4" fill="#aa00e6"/>
<circle cx="1089.4" cy="1170.8" r="3.4" fill="#aa00e6"/>
<circle cx="1107.7" cy="1177.0" r="3.4" fill="#aa00e6"/>
<circle cx="1089.4" cy="1201.4" r="3.4" fill="#aa00e6"/>
<circle cx="1107.7" cy="1201.9" r="3.4" fill="#aa00e6"/>
<circle cx="1098.3" cy="1213.9" r="3.4" fill="#aa00e6"/>
<circle cx="1160.9" cy="1319.9" r="3.4" fill="#0000f5"/>
<circle cx="1151.6" cy="1331.5" r="3.4" fill="#0000f5"/>
<circle cx="1156.7" cy="1327.7" r="3.4" fill="#0000f5"/>
<circle cx="1165.0" cy="1327.7" r="3.4" fill="#0000f5"/>
<circle cx="1160.9" cy="1331.9" r="3.4" fill="#0000f5"/>
<circle cx="1169.8" cy="1334.0" r="3.4" fill="#0000f5"/>
<circle cx="1188.8" cy="1319.0" r="3.4" fill="#aa00e6"/>
<circle cx="1193.5" cy="1313.3" r="3.4" fill="#aa00e6"/>
<circle cx="1199.7" cy="1315.3" r="3.4" fill="#aa00e6"/>
<circle cx="1207.0" cy="1312.6" r="3.4" fill="#aa00e6"/>
<circle cx="1203.2" cy="1317.4" r="3.4" fill="#aa00e6"/>
<circle cx="1207.0" cy="1321.1" r="3.4" fill="#aa00e6"/>
<circle cx="1260.8" cy="1223.6" r="3.4" fill="#0000f5"/>
<circle cx="1260.8" cy="1271.8" r="3.4" fill="#0000f5"/>
<circle cx="1260.8" cy="1283.2" r="3.4" fill="#0000f5"/>
<circle cx="1260.8" cy="1292.5" r="3.4" fill="#0000f5"/>
<circle cx="1270.1" cy="1314.3" r="3.4" fill="#0000f5"/>
<circle cx="1251.9" cy="1319.0" r="3.4" fill="#0000f5"/>
<circle cx="1298.1" cy="1242.9" r="3.4" fill="#aa00e6"/>
<circle cx="1289.2" cy="1253.6" r="3.4" fill="#aa00e6"/>
<circle cx="1307.4" cy="1253.6" r="3.4" fill="#aa00e6"/>
<circle cx="1289.2" cy="1279.7" r="3.4" fill="#aa00e6"/>
<circle cx="1307.4" cy="1281.2" r="3.4" fill="#aa00e6"/>
<circle cx="1289.2" cy="1288.0" r="3.4" fill="#aa00e6"/>
<circle cx="1351.5" cy="1324.6" r="3.4" fill="#0000f5"/>
<circle cx="1360.2" cy="1324.2" r="3.4" fill="#0000f5"/>
<circle cx="1369.5" cy="1326.3" r="3.4" fill="#0000f5"/>
<circle cx="1356.0" cy="1327.7" r="3.4" fill="#0000f5"/>
<circle cx="1364.9" cy="1329.4" r="3.4" fill="#0000f5"/>
<circle cx="1356.0" cy="1334.6" r="3.4" fill="#0000f5"/>
<circle cx="1388.7" cy="1311.8" r="3.4" fill="#aa00e6"/>
<circle cx="1406.8" cy="1313.3" r="3.4" fill="#aa00e6"/>
<circle cx="1394.3" cy="1315.3" r="3.4" fill="#aa00e6"/>
<circle cx="1402.6" cy="1316.4" r="3.4" fill="#aa00e6"/>
<circle cx="1398.5" cy="1317.4" r="3.4" fill="#aa00e6"/>
<circle cx="1392.9" cy="1321.5" r="3.4" fill="#aa00e6"/>
<text transform="translate(43.59,1454.20) scale(1.0000,1)" font-size="52" fill="#000" font-weight="bold">h</text>
<rect x="205.80" y="1545.80" width="29.90" height="328.30" fill="#bed0e9" stroke="#27538f" stroke-width="1.8"/>
<rect x="254.10" y="1548.30" width="29.80" height="325.80" fill="#d0c4e8" stroke="#4b288c" stroke-width="1.8"/>
<rect x="334.30" y="1783.30" width="29.20" height="90.80" fill="#bed0e9" stroke="#27538f" stroke-width="1.8"/>
<rect x="382.00" y="1749.80" width="29.20" height="124.30" fill="#d0c4e8" stroke="#4b288c" stroke-width="1.8"/>
<rect x="461.60" y="1871.70" width="29.60" height="2.40" fill="#bed0e9" stroke="#27538f" stroke-width="1.8"/>
<rect x="509.60" y="1868.40" width="29.30" height="5.70" fill="#d0c4e8" stroke="#4b288c" stroke-width="1.8"/>
<rect x="589.70" y="1862.90" width="29.60" height="11.20" fill="#bed0e9" stroke="#27538f" stroke-width="1.8"/>
<rect x="637.70" y="1854.00" width="29.30" height="20.10" fill="#d0c4e8" stroke="#4b288c" stroke-width="1.8"/>
<rect x="195.00" y="1633.20" width="95.00" height="49.80" fill="#fff"/>
<line x1="189.00" y1="1439.50" x2="189.00" y2="1633.40" stroke="#000" stroke-width="3.4" stroke-linecap="butt"/>
<line x1="189.00" y1="1681.30" x2="189.00" y2="1875.80" stroke="#000" stroke-width="3.4" stroke-linecap="butt"/>
<line x1="180.30" y1="1631.90" x2="197.60" y2="1631.90" stroke="#000" stroke-width="3.0" stroke-linecap="butt"/>
<line x1="180.30" y1="1682.80" x2="197.60" y2="1682.80" stroke="#000" stroke-width="3.0" stroke-linecap="butt"/>
<line x1="173.80" y1="1874.10" x2="686.00" y2="1874.10" stroke="#000" stroke-width="3.4" stroke-linecap="butt"/>
<line x1="173.80" y1="1441.40" x2="189.00" y2="1441.40" stroke="#000" stroke-width="3.0" stroke-linecap="butt"/>
<text transform="translate(104.54,1455.47) scale(1.0000,1)" font-size="39.3" fill="#000" font-weight="bold">120</text>
<line x1="173.80" y1="1489.00" x2="189.00" y2="1489.00" stroke="#000" stroke-width="3.0" stroke-linecap="butt"/>
<text transform="translate(106.70,1503.07) scale(1.0000,1)" font-size="39.3" fill="#000" font-weight="bold">110</text>
<line x1="173.80" y1="1536.60" x2="189.00" y2="1536.60" stroke="#000" stroke-width="3.0" stroke-linecap="butt"/>
<text transform="translate(104.54,1550.67) scale(1.0000,1)" font-size="39.3" fill="#000" font-weight="bold">100</text>
<line x1="173.80" y1="1584.30" x2="189.00" y2="1584.30" stroke="#000" stroke-width="3.0" stroke-linecap="butt"/>
<text transform="translate(126.45,1598.37) scale(1.0000,1)" font-size="39.3" fill="#000" font-weight="bold">90</text>
<text transform="translate(126.45,1645.97) scale(1.0000,1)" font-size="39.3" fill="#000" font-weight="bold">80</text>
<line x1="173.80" y1="1721.10" x2="189.00" y2="1721.10" stroke="#000" stroke-width="3.0" stroke-linecap="butt"/>
<text transform="translate(115.45,1735.17) scale(1.0000,1)" font-size="39.3" fill="#000" font-weight="bold">2.0</text>
<line x1="173.80" y1="1759.30" x2="189.00" y2="1759.30" stroke="#000" stroke-width="3.0" stroke-linecap="butt"/>
<text transform="translate(114.96,1773.37) scale(1.0000,1)" font-size="39.3" fill="#000" font-weight="bold">1.5</text>
<line x1="173.80" y1="1797.60" x2="189.00" y2="1797.60" stroke="#000" stroke-width="3.0" stroke-linecap="butt"/>
<text transform="translate(115.45,1811.67) scale(1.0000,1)" font-size="39.3" fill="#000" font-weight="bold">1.0</text>
<line x1="173.80" y1="1835.80" x2="189.00" y2="1835.80" stroke="#000" stroke-width="3.0" stroke-linecap="butt"/>
<text transform="translate(114.96,1849.87) scale(1.0000,1)" font-size="39.3" fill="#000" font-weight="bold">0.5</text>
<text transform="translate(114.96,1696.87) scale(1.0000,1)" font-size="39.3" fill="#000" font-weight="bold">2.5</text>
<text transform="translate(115.45,1888.17) scale(1.0000,1)" font-size="39.3" fill="#000" font-weight="bold">0.0</text>
<line x1="244.00" y1="1874.10" x2="244.00" y2="1889.10" stroke="#000" stroke-width="3.2" stroke-linecap="butt"/>
<line x1="372.10" y1="1874.10" x2="372.10" y2="1889.10" stroke="#000" stroke-width="3.2" stroke-linecap="butt"/>
<line x1="499.80" y1="1874.10" x2="499.80" y2="1889.10" stroke="#000" stroke-width="3.2" stroke-linecap="butt"/>
<line x1="628.10" y1="1874.10" x2="628.10" y2="1889.10" stroke="#000" stroke-width="3.2" stroke-linecap="butt"/>
<text transform="translate(307.91,1467.40) scale(1.0000,1)" font-size="39.74" fill="#000" font-weight="bold">Succinic Acid</text>
<text transform="translate(300.56,1680.90) scale(1.0000,1)" font-size="29.85" fill="#000" font-weight="bold">p = 0.0236</text>
<line x1="348.90" y1="1697.00" x2="396.40" y2="1697.00" stroke="#000" stroke-width="3.0" stroke-linecap="butt"/>
<text transform="translate(433.35,1826.60) scale(1.0000,1)" font-size="30.02" fill="#000" font-weight="bold">p= 0.9959</text>
<line x1="479.10" y1="1842.70" x2="523.70" y2="1842.70" stroke="#000" stroke-width="3.0" stroke-linecap="butt"/>
<text transform="translate(570.34,1786.90) scale(1.0000,1)" font-size="30.1" fill="#000" font-weight="bold">p= 0.9107</text>
<line x1="614.70" y1="1803.90" x2="662.80" y2="1803.90" stroke="#000" stroke-width="3.0" stroke-linecap="butt"/>
<text transform="translate(205.02,1924.90) scale(1.0000,1)" font-size="39.68" fill="#000" font-weight="bold">M+0</text>
<text transform="translate(332.62,1924.90) scale(1.0000,1)" font-size="39.68" fill="#000" font-weight="bold">M+2</text>
<text transform="translate(460.81,1924.90) scale(1.0000,1)" font-size="39.79" fill="#000" font-weight="bold">M+3</text>
<text transform="translate(588.95,1924.90) scale(1.0000,1)" font-size="39.16" fill="#000" font-weight="bold">M+4</text>
<text transform="translate(85.80,1745.56) rotate(-90) scale(1.0000,1)" font-size="38.03" fill="#000" font-weight="bold">% U<tspan font-size="0.77em" dy="-0.5325em">13</tspan><tspan font-size="1em" dy="0.4100em">C Glc</tspan></text>
<line x1="348.90" y1="1766.30" x2="348.90" y2="1797.90" stroke="#27538f" stroke-width="2.9" stroke-linecap="butt"/>
<line x1="341.15" y1="1766.30" x2="356.65" y2="1766.30" stroke="#27538f" stroke-width="2.9" stroke-linecap="butt"/>
<line x1="341.15" y1="1797.90" x2="356.65" y2="1797.90" stroke="#27538f" stroke-width="2.9" stroke-linecap="butt"/>
<line x1="396.40" y1="1723.50" x2="396.40" y2="1774.10" stroke="#4b288c" stroke-width="2.9" stroke-linecap="butt"/>
<line x1="388.65" y1="1723.50" x2="404.15" y2="1723.50" stroke="#4b288c" stroke-width="2.9" stroke-linecap="butt"/>
<line x1="388.65" y1="1774.10" x2="404.15" y2="1774.10" stroke="#4b288c" stroke-width="2.9" stroke-linecap="butt"/>
<line x1="476.20" y1="1864.20" x2="476.20" y2="1871.00" stroke="#27538f" stroke-width="2.9" stroke-linecap="butt"/>
<line x1="468.45" y1="1864.20" x2="483.95" y2="1864.20" stroke="#27538f" stroke-width="2.9" stroke-linecap="butt"/>
<line x1="468.45" y1="1871.00" x2="483.95" y2="1871.00" stroke="#27538f" stroke-width="2.9" stroke-linecap="butt"/>
<line x1="524.30" y1="1865.30" x2="524.30" y2="1871.00" stroke="#4b288c" stroke-width="2.9" stroke-linecap="butt"/>
<line x1="516.55" y1="1865.30" x2="532.05" y2="1865.30" stroke="#4b288c" stroke-width="2.9" stroke-linecap="butt"/>
<line x1="516.55" y1="1871.00" x2="532.05" y2="1871.00" stroke="#4b288c" stroke-width="2.9" stroke-linecap="butt"/>
<line x1="604.30" y1="1852.00" x2="604.30" y2="1871.00" stroke="#27538f" stroke-width="2.9" stroke-linecap="butt"/>
<line x1="596.55" y1="1852.00" x2="612.05" y2="1852.00" stroke="#27538f" stroke-width="2.9" stroke-linecap="butt"/>
<line x1="596.55" y1="1871.00" x2="612.05" y2="1871.00" stroke="#27538f" stroke-width="2.9" stroke-linecap="butt"/>
<line x1="652.20" y1="1840.50" x2="652.20" y2="1864.20" stroke="#4b288c" stroke-width="2.9" stroke-linecap="butt"/>
<line x1="644.45" y1="1840.50" x2="659.95" y2="1840.50" stroke="#4b288c" stroke-width="2.9" stroke-linecap="butt"/>
<line x1="644.45" y1="1864.20" x2="659.95" y2="1864.20" stroke="#4b288c" stroke-width="2.9" stroke-linecap="butt"/>
<circle cx="207.4" cy="1546.0" r="3.4" fill="#0000f5"/>
<circle cx="213.6" cy="1542.4" r="3.4" fill="#0000f5"/>
<circle cx="219.4" cy="1543.9" r="3.4" fill="#0000f5"/>
<circle cx="222.9" cy="1542.9" r="3.4" fill="#0000f5"/>
<circle cx="228.1" cy="1547.4" r="3.4" fill="#0000f5"/>
<circle cx="233.3" cy="1543.3" r="3.4" fill="#0000f5"/>
<circle cx="256.0" cy="1547.4" r="3.4" fill="#aa00e6"/>
<circle cx="261.2" cy="1543.9" r="3.4" fill="#aa00e6"/>
<circle cx="266.4" cy="1547.4" r="3.4" fill="#aa00e6"/>
<circle cx="270.9" cy="1543.9" r="3.4" fill="#aa00e6"/>
<circle cx="276.1" cy="1551.6" r="3.4" fill="#aa00e6"/>
<circle cx="281.3" cy="1544.9" r="3.4" fill="#aa00e6"/>
<circle cx="348.9" cy="1758.8" r="3.4" fill="#0000f5"/>
<circle cx="341.2" cy="1774.7" r="3.4" fill="#0000f5"/>
<circle cx="356.2" cy="1775.2" r="3.4" fill="#0000f5"/>
<circle cx="348.9" cy="1786.2" r="3.4" fill="#0000f5"/>
<circle cx="356.2" cy="1796.4" r="3.4" fill="#0000f5"/>
<circle cx="341.2" cy="1802.8" r="3.4" fill="#0000f5"/>
<circle cx="396.4" cy="1711.8" r="3.4" fill="#aa00e6"/>
<circle cx="396.4" cy="1730.1" r="3.4" fill="#aa00e6"/>
<circle cx="396.4" cy="1741.1" r="3.4" fill="#aa00e6"/>
<circle cx="389.3" cy="1766.3" r="3.4" fill="#aa00e6"/>
<circle cx="403.7" cy="1769.6" r="3.4" fill="#aa00e6"/>
<circle cx="389.3" cy="1773.6" r="3.4" fill="#aa00e6"/>
<circle cx="476.2" cy="1862.0" r="3.4" fill="#0000f5"/>
<circle cx="488.8" cy="1864.2" r="3.4" fill="#0000f5"/>
<circle cx="464.0" cy="1867.0" r="3.4" fill="#0000f5"/>
<circle cx="464.0" cy="1874.1" r="3.4" fill="#0000f5"/>
<circle cx="476.2" cy="1873.7" r="3.4" fill="#0000f5"/>
<circle cx="488.8" cy="1874.1" r="3.4" fill="#0000f5"/>
<circle cx="512.0" cy="1864.2" r="3.4" fill="#aa00e6"/>
<circle cx="519.9" cy="1862.0" r="3.4" fill="#aa00e6"/>
<circle cx="528.1" cy="1860.4" r="3.4" fill="#aa00e6"/>
<circle cx="536.3" cy="1866.4" r="3.4" fill="#aa00e6"/>
<circle cx="528.1" cy="1867.5" r="3.4" fill="#aa00e6"/>
<circle cx="512.0" cy="1871.5" r="3.4" fill="#aa00e6"/>
<circle cx="603.8" cy="1846.9" r="3.4" fill="#0000f5"/>
<circle cx="591.7" cy="1857.5" r="3.4" fill="#0000f5"/>
<circle cx="616.4" cy="1858.6" r="3.4" fill="#0000f5"/>
<circle cx="603.8" cy="1860.8" r="3.4" fill="#0000f5"/>
<circle cx="609.8" cy="1869.7" r="3.4" fill="#0000f5"/>
<circle cx="597.7" cy="1873.7" r="3.4" fill="#0000f5"/>
<circle cx="652.2" cy="1829.5" r="3.4" fill="#aa00e6"/>
<circle cx="652.2" cy="1848.7" r="3.4" fill="#aa00e6"/>
<circle cx="647.3" cy="1857.5" r="3.4" fill="#aa00e6"/>
<circle cx="656.2" cy="1859.7" r="3.4" fill="#aa00e6"/>
<circle cx="640.1" cy="1861.5" r="3.4" fill="#aa00e6"/>
<circle cx="665.0" cy="1858.2" r="3.4" fill="#aa00e6"/>
<text transform="translate(772.59,1453.00) scale(1.0000,1)" font-size="52" fill="#000" font-weight="bold">i</text>
<rect x="918.90" y="1553.30" width="26.50" height="303.90" fill="#bed0e9" stroke="#27538f" stroke-width="1.8"/>
<rect x="962.10" y="1561.00" width="26.40" height="296.20" fill="#d0c4e8" stroke="#4b288c" stroke-width="1.8"/>
<rect x="1033.60" y="1811.90" width="26.00" height="45.30" fill="#bed0e9" stroke="#27538f" stroke-width="1.8"/>
<rect x="1076.60" y="1812.70" width="26.00" height="44.50" fill="#d0c4e8" stroke="#4b288c" stroke-width="1.8"/>
<rect x="1148.10" y="1832.40" width="26.10" height="24.80" fill="#bed0e9" stroke="#27538f" stroke-width="1.8"/>
<rect x="1190.90" y="1822.50" width="26.10" height="34.70" fill="#d0c4e8" stroke="#4b288c" stroke-width="1.8"/>
<rect x="1262.40" y="1854.30" width="25.90" height="2.90" fill="#bed0e9" stroke="#27538f" stroke-width="1.8"/>
<rect x="1305.30" y="1853.20" width="25.80" height="4.00" fill="#d0c4e8" stroke="#4b288c" stroke-width="1.8"/>
<line x1="903.60" y1="1465.30" x2="903.60" y2="1858.90" stroke="#000" stroke-width="3.4" stroke-linecap="butt"/>
<line x1="890.30" y1="1857.20" x2="1348.10" y2="1857.20" stroke="#000" stroke-width="3.4" stroke-linecap="butt"/>
<line x1="890.30" y1="1466.90" x2="903.60" y2="1466.90" stroke="#000" stroke-width="3.0" stroke-linecap="butt"/>
<text transform="translate(827.26,1479.54) scale(1.0000,1)" font-size="35.3" fill="#000" font-weight="bold">100</text>
<line x1="890.30" y1="1545.00" x2="903.60" y2="1545.00" stroke="#000" stroke-width="3.0" stroke-linecap="butt"/>
<text transform="translate(846.94,1557.64) scale(1.0000,1)" font-size="35.3" fill="#000" font-weight="bold">80</text>
<line x1="890.30" y1="1623.00" x2="903.60" y2="1623.00" stroke="#000" stroke-width="3.0" stroke-linecap="butt"/>
<text transform="translate(846.94,1635.64) scale(1.0000,1)" font-size="35.3" fill="#000" font-weight="bold">60</text>
<line x1="890.30" y1="1701.00" x2="903.60" y2="1701.00" stroke="#000" stroke-width="3.0" stroke-linecap="butt"/>
<text transform="translate(846.94,1713.64) scale(1.0000,1)" font-size="35.3" fill="#000" font-weight="bold">40</text>
<line x1="890.30" y1="1779.00" x2="903.60" y2="1779.00" stroke="#000" stroke-width="3.0" stroke-linecap="butt"/>
<text transform="translate(846.94,1791.64) scale(1.0000,1)" font-size="35.3" fill="#000" font-weight="bold">20</text>
<text transform="translate(866.53,1869.84) scale(1.0000,1)" font-size="35.3" fill="#000" font-weight="bold">0</text>
<line x1="953.60" y1="1857.20" x2="953.60" y2="1871.00" stroke="#000" stroke-width="3.2" stroke-linecap="butt"/>
<line x1="1067.40" y1="1857.20" x2="1067.40" y2="1871.00" stroke="#000" stroke-width="3.2" stroke-linecap="butt"/>
<line x1="1182.10" y1="1857.20" x2="1182.10" y2="1871.00" stroke="#000" stroke-width="3.2" stroke-linecap="butt"/>
<line x1="1296.00" y1="1857.20" x2="1296.00" y2="1871.00" stroke="#000" stroke-width="3.2" stroke-linecap="butt"/>
<text transform="translate(1036.64,1489.40) scale(1.0000,1)" font-size="36.25" fill="#000" font-weight="bold">Malic Acid</text>
<text transform="translate(1024.28,1770.00) scale(1.0000,1)" font-size="27.23" fill="#000" font-weight="bold">0.9120</text>
<line x1="1045.20" y1="1786.30" x2="1087.00" y2="1786.30" stroke="#000" stroke-width="3.1" stroke-linecap="butt"/>
<text transform="translate(1116.76,1784.40) scale(1.0000,1)" font-size="26.77" fill="#000" font-weight="bold">p &lt; 0.0001</text>
<line x1="1161.00" y1="1800.00" x2="1203.60" y2="1800.00" stroke="#000" stroke-width="3.1" stroke-linecap="butt"/>
<text transform="translate(1254.07,1817.20) scale(1.0000,1)" font-size="27.35" fill="#000" font-weight="bold">0.9986</text>
<line x1="1275.00" y1="1834.00" x2="1317.00" y2="1834.00" stroke="#000" stroke-width="3.1" stroke-linecap="butt"/>
<text transform="translate(917.13,1907.40) scale(1.0000,1)" font-size="36.47" fill="#000" font-weight="bold">M+0</text>
<text transform="translate(1031.93,1907.40) scale(1.0000,1)" font-size="36.47" fill="#000" font-weight="bold">M+2</text>
<text transform="translate(1146.84,1907.40) scale(1.0000,1)" font-size="36.32" fill="#000" font-weight="bold">M+3</text>
<text transform="translate(1260.99,1907.40) scale(1.0000,1)" font-size="35.59" fill="#000" font-weight="bold">M+4</text>
<text transform="translate(807.50,1743.29) rotate(-90) scale(1.0000,1)" font-size="35.21" fill="#000" font-weight="bold">% U<tspan font-size="0.77em" dy="-0.5325em">13</tspan><tspan font-size="1em" dy="0.4100em">C Glc</tspan></text>
<circle cx="921.2" cy="1546.2" r="3.3" fill="#0000f5"/>
<circle cx="935.6" cy="1545.8" r="3.3" fill="#0000f5"/>
<circle cx="929.0" cy="1551.3" r="3.3" fill="#0000f5"/>
<circle cx="943.3" cy="1552.4" r="3.3" fill="#0000f5"/>
<circle cx="935.6" cy="1553.5" r="3.3" fill="#0000f5"/>
<circle cx="921.2" cy="1555.3" r="3.3" fill="#0000f5"/>
<circle cx="964.3" cy="1555.3" r="3.3" fill="#aa00e6"/>
<circle cx="986.4" cy="1557.2" r="3.3" fill="#aa00e6"/>
<circle cx="972.0" cy="1559.5" r="3.3" fill="#aa00e6"/>
<circle cx="980.8" cy="1561.2" r="3.3" fill="#aa00e6"/>
<circle cx="975.3" cy="1560.8" r="3.3" fill="#aa00e6"/>
<circle cx="969.8" cy="1565.2" r="3.3" fill="#aa00e6"/>
<circle cx="1035.3" cy="1810.3" r="3.3" fill="#0000f5"/>
<circle cx="1040.5" cy="1806.3" r="3.3" fill="#0000f5"/>
<circle cx="1046.4" cy="1809.2" r="3.3" fill="#0000f5"/>
<circle cx="1052.2" cy="1808.0" r="3.3" fill="#0000f5"/>
<circle cx="1057.6" cy="1805.2" r="3.3" fill="#0000f5"/>
<circle cx="1057.6" cy="1813.4" r="3.3" fill="#0000f5"/>
<circle cx="1078.5" cy="1812.7" r="3.3" fill="#aa00e6"/>
<circle cx="1083.9" cy="1807.5" r="3.3" fill="#aa00e6"/>
<circle cx="1089.8" cy="1811.5" r="3.3" fill="#aa00e6"/>
<circle cx="1094.9" cy="1809.9" r="3.3" fill="#aa00e6"/>
<circle cx="1100.3" cy="1805.6" r="3.3" fill="#aa00e6"/>
<circle cx="1100.3" cy="1813.4" r="3.3" fill="#aa00e6"/>
<circle cx="1149.6" cy="1831.5" r="3.3" fill="#0000f5"/>
<circle cx="1154.8" cy="1826.1" r="3.3" fill="#0000f5"/>
<circle cx="1160.2" cy="1829.8" r="3.3" fill="#0000f5"/>
<circle cx="1163.7" cy="1828.4" r="3.3" fill="#0000f5"/>
<circle cx="1167.7" cy="1831.9" r="3.3" fill="#0000f5"/>
<circle cx="1172.4" cy="1829.6" r="3.3" fill="#0000f5"/>
<circle cx="1193.0" cy="1821.4" r="3.3" fill="#aa00e6"/>
<circle cx="1197.7" cy="1818.1" r="3.3" fill="#aa00e6"/>
<circle cx="1203.6" cy="1817.4" r="3.3" fill="#aa00e6"/>
<circle cx="1208.3" cy="1818.5" r="3.3" fill="#aa00e6"/>
<circle cx="1210.1" cy="1823.2" r="3.3" fill="#aa00e6"/>
<circle cx="1214.8" cy="1818.1" r="3.3" fill="#aa00e6"/>
<circle cx="1264.1" cy="1852.1" r="3.3" fill="#0000f5"/>
<circle cx="1268.8" cy="1850.2" r="3.3" fill="#0000f5"/>
<circle cx="1274.0" cy="1851.9" r="3.3" fill="#0000f5"/>
<circle cx="1277.5" cy="1851.4" r="3.3" fill="#0000f5"/>
<circle cx="1282.2" cy="1852.6" r="3.3" fill="#0000f5"/>
<circle cx="1286.9" cy="1850.7" r="3.3" fill="#0000f5"/>
<circle cx="1306.8" cy="1851.4" r="3.3" fill="#aa00e6"/>
<circle cx="1311.5" cy="1849.8" r="3.3" fill="#aa00e6"/>
<circle cx="1315.0" cy="1850.9" r="3.3" fill="#aa00e6"/>
<circle cx="1319.7" cy="1849.8" r="3.3" fill="#aa00e6"/>
<circle cx="1324.4" cy="1852.1" r="3.3" fill="#aa00e6"/>
<circle cx="1329.1" cy="1849.8" r="3.3" fill="#aa00e6"/>
</svg>
</body></html>
